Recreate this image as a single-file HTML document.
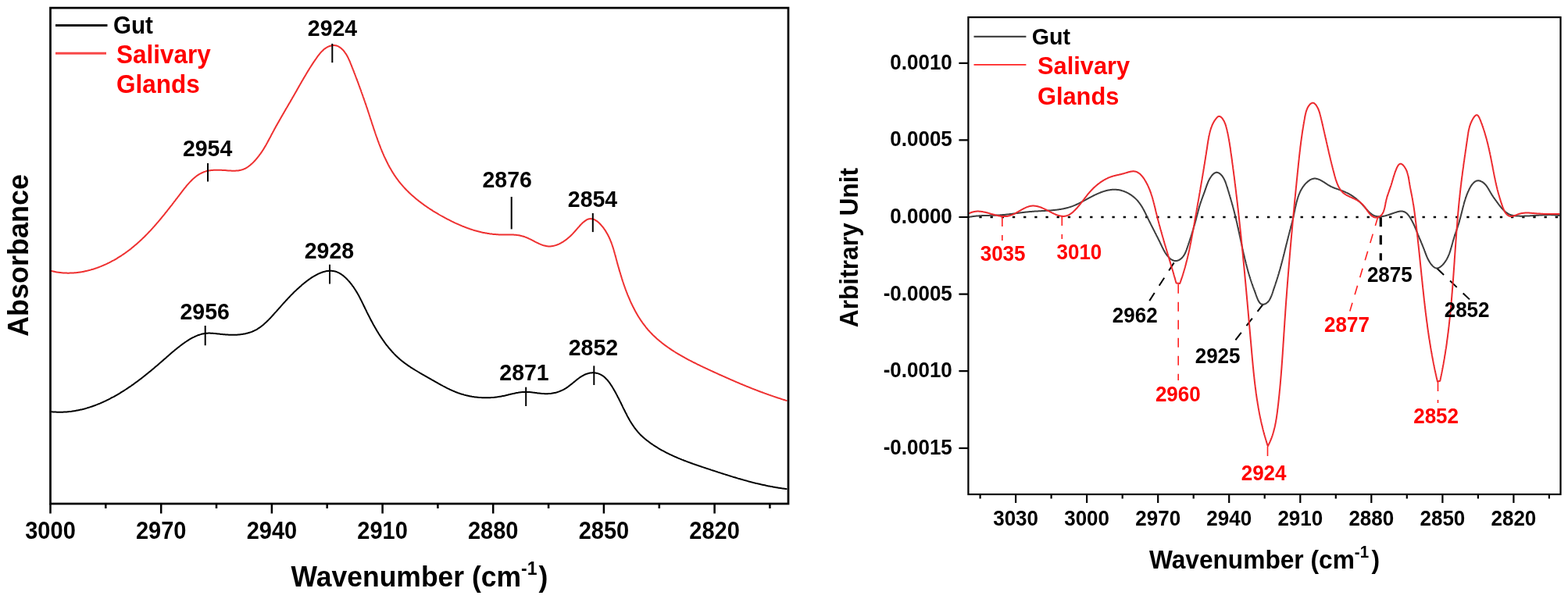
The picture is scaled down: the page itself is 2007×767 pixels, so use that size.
<!DOCTYPE html><html><head><meta charset="utf-8"><title>FTIR spectra</title>
<style>html,body{margin:0;padding:0;background:#fff;}svg{display:block;}text{font-family:"Liberation Sans",Arial,sans-serif;font-weight:bold;}</style></head><body>
<svg width="2007" height="767" viewBox="0 0 2007 767">
<rect x="0" y="0" width="2007" height="767" fill="#fff"/>
<path d="M65.5,346.9 L66.5,347.1 67.5,347.4 68.5,347.6 69.4,347.8 70.4,348.0 71.4,348.2 72.4,348.4 73.4,348.6 74.4,348.7 75.4,348.8 76.4,349.0 77.4,349.1 78.4,349.2 79.4,349.3 80.4,349.4 81.4,349.5 82.4,349.5 83.4,349.6 84.3,349.6 85.3,349.6 86.3,349.7 87.3,349.7 88.3,349.7 89.3,349.6 90.3,349.6 91.3,349.6 92.3,349.5 93.3,349.5 94.3,349.4 95.3,349.3 96.3,349.3 97.3,349.2 98.3,349.1 99.2,348.9 100.2,348.8 101.2,348.7 102.2,348.5 103.2,348.4 104.2,348.2 105.2,348.1 106.1,347.9 107.1,347.7 108.1,347.5 109.1,347.3 110.0,347.1 111.0,346.9 112.0,346.6 113.0,346.4 113.9,346.1 114.9,345.9 115.9,345.6 116.8,345.3 117.8,345.1 118.8,344.8 119.7,344.5 120.7,344.2 121.6,343.8 122.6,343.5 123.5,343.2 124.5,342.9 125.4,342.5 126.4,342.2 127.3,341.8 128.2,341.4 129.2,341.1 130.1,340.7 131.0,340.3 132.0,339.9 132.9,339.5 133.8,339.1 134.7,338.7 135.6,338.3 136.6,337.8 137.5,337.4 138.4,337.0 139.3,336.5 140.2,336.1 141.1,335.6 142.0,335.2 142.9,334.7 143.7,334.2 144.6,333.7 145.5,333.3 146.4,332.8 147.2,332.3 148.1,331.8 149.0,331.3 149.8,330.8 150.7,330.2 151.5,329.7 152.4,329.2 153.2,328.7 154.1,328.1 154.9,327.6 155.7,327.0 156.6,326.5 157.4,325.9 158.2,325.4 159.0,324.8 159.8,324.3 160.6,323.7 161.4,323.1 162.2,322.5 163.0,322.0 163.8,321.4 164.6,320.8 165.4,320.2 166.2,319.6 167.0,319.0 167.7,318.4 168.5,317.8 169.3,317.1 170.0,316.5 170.8,315.9 171.5,315.3 172.3,314.6 173.0,314.0 173.8,313.4 174.5,312.7 175.3,312.1 176.0,311.4 176.7,310.8 177.5,310.1 178.2,309.4 178.9,308.8 179.6,308.1 180.4,307.4 181.1,306.8 181.8,306.1 182.5,305.4 183.2,304.7 183.9,304.0 184.6,303.4 185.3,302.7 186.0,302.0 186.7,301.3 187.4,300.6 188.1,299.9 188.8,299.1 189.5,298.4 190.2,297.7 190.8,297.0 191.5,296.3 192.2,295.6 192.9,294.8 193.6,294.1 194.2,293.4 194.9,292.6 195.6,291.9 196.2,291.2 196.9,290.4 197.6,289.7 198.2,288.9 198.9,288.2 199.5,287.4 200.2,286.7 200.8,285.9 201.5,285.1 202.2,284.4 202.8,283.6 203.4,282.9 204.1,282.1 204.7,281.3 205.4,280.5 206.0,279.8 206.7,279.0 207.3,278.2 208.0,277.4 208.6,276.6 209.2,275.9 209.9,275.1 210.5,274.3 211.1,273.5 211.8,272.7 212.4,271.9 213.1,271.1 213.7,270.3 214.3,269.5 214.9,268.7 215.6,267.9 216.2,267.1 216.8,266.3 217.5,265.5 218.1,264.7 218.7,263.9 219.4,263.1 220.0,262.3 220.6,261.5 221.2,260.6 221.9,259.8 222.5,259.0 223.1,258.2 223.8,257.4 224.4,256.6 225.0,255.7 225.6,254.9 226.3,254.1 226.9,253.3 227.5,252.4 228.2,251.6 228.8,250.8 229.4,250.0 230.1,249.1 230.7,248.3 231.3,247.5 232.0,246.7 232.6,245.8 233.2,245.0 233.9,244.2 234.5,243.3 235.1,242.5 235.8,241.7 236.4,240.9 237.1,240.1 237.7,239.3 238.4,238.5 239.0,237.7 239.7,236.9 240.4,236.1 241.1,235.4 241.7,234.6 242.4,233.9 243.1,233.1 243.8,232.4 244.5,231.7 245.2,231.0 245.9,230.3 246.6,229.6 247.3,228.9 248.1,228.3 248.8,227.6 249.6,227.0 250.3,226.4 251.1,225.8 251.8,225.2 252.6,224.7 253.4,224.2 254.2,223.6 255.0,223.1 255.8,222.7 256.7,222.2 257.5,221.8 258.3,221.3 259.2,221.0 260.1,220.6 261.0,220.2 261.8,219.9 262.8,219.6 263.7,219.3 264.6,219.1 265.5,218.9 266.5,218.7 267.4,218.5 268.4,218.3 269.4,218.2 270.3,218.1 271.3,218.0 272.3,217.9 273.3,217.8 274.3,217.7 275.3,217.7 276.3,217.7 277.4,217.7 278.4,217.7 279.4,217.7 280.4,217.7 281.4,217.7 282.4,217.8 283.5,217.8 284.5,217.9 285.5,217.9 286.5,218.0 287.5,218.1 288.5,218.1 289.5,218.2 290.5,218.3 291.5,218.4 292.5,218.4 293.5,218.5 294.5,218.6 295.5,218.6 296.4,218.7 297.4,218.7 298.4,218.7 299.4,218.7 300.3,218.7 301.3,218.7 302.2,218.6 303.2,218.6 304.1,218.5 305.1,218.4 306.0,218.2 306.9,218.0 307.8,217.9 308.8,217.6 309.7,217.4 310.6,217.1 311.5,216.8 312.4,216.4 313.3,216.0 314.2,215.6 315.0,215.1 315.9,214.6 316.8,214.0 317.6,213.5 318.5,212.8 319.3,212.2 320.2,211.5 321.0,210.8 321.8,210.1 322.6,209.4 323.4,208.6 324.2,207.9 324.9,207.1 325.7,206.3 326.5,205.5 327.2,204.6 327.9,203.8 328.6,203.0 329.3,202.1 330.0,201.3 330.6,200.4 331.3,199.6 331.9,198.8 332.5,197.9 333.2,197.1 333.8,196.3 334.3,195.4 334.9,194.6 335.5,193.8 336.0,192.9 336.6,192.1 337.1,191.3 337.6,190.4 338.1,189.6 338.6,188.8 339.1,187.9 339.6,187.1 340.1,186.3 340.6,185.4 341.0,184.6 341.5,183.8 342.0,182.9 342.4,182.1 342.9,181.3 343.3,180.4 343.8,179.6 344.2,178.7 344.7,177.9 345.1,177.1 345.6,176.2 346.0,175.4 346.5,174.5 346.9,173.7 347.3,172.8 347.8,172.0 348.2,171.1 348.7,170.3 349.2,169.4 349.6,168.5 350.1,167.7 350.6,166.8 351.0,166.0 351.5,165.1 352.0,164.2 352.5,163.4 352.9,162.5 353.4,161.6 353.9,160.7 354.4,159.9 354.9,159.0 355.4,158.1 355.9,157.2 356.4,156.4 356.9,155.5 357.4,154.6 357.9,153.7 358.4,152.8 358.9,152.0 359.4,151.1 359.9,150.2 360.4,149.3 360.9,148.4 361.4,147.5 361.9,146.7 362.4,145.8 363.0,144.9 363.5,144.0 364.0,143.1 364.5,142.2 365.0,141.4 365.5,140.5 366.0,139.6 366.5,138.7 367.1,137.8 367.6,136.9 368.1,136.0 368.6,135.2 369.1,134.3 369.6,133.4 370.1,132.5 370.7,131.6 371.2,130.8 371.7,129.9 372.2,129.0 372.7,128.1 373.2,127.3 373.7,126.4 374.2,125.5 374.7,124.6 375.2,123.8 375.7,122.9 376.2,122.0 376.7,121.2 377.2,120.3 377.7,119.4 378.2,118.6 378.7,117.7 379.2,116.9 379.7,116.0 380.1,115.2 380.6,114.3 381.1,113.4 381.6,112.6 382.1,111.7 382.6,110.9 383.0,110.0 383.5,109.2 384.0,108.3 384.5,107.5 385.0,106.6 385.5,105.8 385.9,105.0 386.4,104.1 386.9,103.3 387.4,102.4 387.9,101.6 388.4,100.7 388.9,99.9 389.4,99.0 389.9,98.2 390.4,97.4 390.9,96.5 391.4,95.7 391.9,94.8 392.4,94.0 392.9,93.1 393.4,92.3 393.9,91.4 394.4,90.6 395.0,89.7 395.5,88.9 396.0,88.0 396.5,87.2 397.1,86.3 397.6,85.5 398.2,84.6 398.7,83.8 399.3,82.9 399.8,82.1 400.4,81.2 401.0,80.4 401.5,79.5 402.1,78.6 402.7,77.8 403.3,76.9 403.9,76.1 404.5,75.2 405.1,74.3 405.7,73.5 406.3,72.6 406.9,71.7 407.6,70.9 408.2,70.1 408.9,69.3 409.5,68.4 410.2,67.7 410.9,66.9 411.6,66.1 412.3,65.4 413.1,64.7 413.8,64.0 414.5,63.3 415.3,62.7 416.1,62.1 416.9,61.6 417.7,61.0 418.6,60.5 419.4,60.1 420.3,59.7 421.2,59.3 422.1,59.0 423.0,58.7 424.0,58.5 425.0,58.3 425.9,58.2 426.9,58.1 427.9,58.1 428.8,58.2 429.8,58.3 430.7,58.5 431.6,58.8 432.5,59.2 433.4,59.6 434.2,60.1 435.0,60.6 435.8,61.2 436.6,61.8 437.4,62.5 438.1,63.2 438.9,63.9 439.6,64.7 440.2,65.5 440.9,66.3 441.5,67.2 442.1,68.1 442.7,68.9 443.3,69.8 443.8,70.7 444.3,71.6 444.8,72.5 445.3,73.4 445.8,74.4 446.2,75.3 446.6,76.2 447.1,77.2 447.5,78.1 447.9,79.0 448.3,80.0 448.6,80.9 449.0,81.9 449.4,82.8 449.8,83.7 450.1,84.7 450.5,85.6 450.9,86.6 451.3,87.5 451.6,88.4 452.0,89.4 452.4,90.3 452.7,91.2 453.1,92.2 453.4,93.1 453.8,94.0 454.2,95.0 454.5,95.9 454.9,96.8 455.2,97.8 455.6,98.7 455.9,99.6 456.3,100.5 456.6,101.5 457.0,102.4 457.3,103.3 457.7,104.2 458.0,105.2 458.4,106.1 458.7,107.0 459.0,107.9 459.4,108.9 459.7,109.8 460.1,110.7 460.4,111.6 460.7,112.6 461.1,113.5 461.4,114.4 461.8,115.3 462.1,116.2 462.4,117.2 462.7,118.1 463.1,119.0 463.4,120.0 463.7,120.9 464.1,121.8 464.4,122.7 464.7,123.7 465.0,124.6 465.4,125.5 465.7,126.4 466.0,127.4 466.3,128.3 466.7,129.2 467.0,130.2 467.3,131.1 467.6,132.0 467.9,133.0 468.3,133.9 468.6,134.8 468.9,135.8 469.2,136.7 469.5,137.7 469.9,138.6 470.2,139.5 470.5,140.5 470.8,141.4 471.1,142.4 471.4,143.3 471.7,144.3 472.1,145.2 472.4,146.2 472.7,147.1 473.0,148.1 473.3,149.0 473.6,150.0 473.9,151.0 474.2,151.9 474.5,152.9 474.9,153.8 475.2,154.8 475.5,155.8 475.8,156.7 476.1,157.7 476.4,158.6 476.7,159.6 477.1,160.6 477.4,161.5 477.7,162.5 478.0,163.5 478.3,164.4 478.6,165.4 479.0,166.4 479.3,167.3 479.6,168.3 479.9,169.3 480.3,170.2 480.6,171.2 480.9,172.1 481.3,173.1 481.6,174.1 481.9,175.0 482.3,176.0 482.6,177.0 483.0,177.9 483.3,178.9 483.6,179.8 484.0,180.8 484.3,181.7 484.7,182.7 485.0,183.6 485.4,184.6 485.8,185.5 486.1,186.5 486.5,187.4 486.9,188.4 487.2,189.3 487.6,190.3 488.0,191.2 488.4,192.1 488.7,193.1 489.1,194.0 489.5,194.9 489.9,195.9 490.3,196.8 490.7,197.7 491.1,198.6 491.5,199.6 491.9,200.5 492.4,201.4 492.8,202.3 493.2,203.2 493.6,204.1 494.1,205.0 494.5,205.9 494.9,206.8 495.4,207.7 495.8,208.6 496.3,209.5 496.7,210.4 497.2,211.3 497.7,212.1 498.1,213.0 498.6,213.9 499.1,214.8 499.6,215.6 500.1,216.5 500.6,217.3 501.1,218.2 501.6,219.1 502.1,219.9 502.6,220.7 503.1,221.6 503.7,222.4 504.2,223.2 504.7,224.1 505.3,224.9 505.8,225.7 506.4,226.5 507.0,227.3 507.5,228.1 508.1,228.9 508.7,229.7 509.3,230.5 509.9,231.3 510.5,232.1 511.1,232.8 511.7,233.6 512.3,234.4 512.9,235.1 513.6,235.9 514.2,236.6 514.9,237.4 515.5,238.1 516.2,238.9 516.8,239.6 517.5,240.3 518.1,241.0 518.8,241.8 519.5,242.5 520.2,243.2 520.9,243.9 521.6,244.6 522.3,245.3 523.0,246.0 523.7,246.7 524.4,247.3 525.1,248.0 525.9,248.7 526.6,249.4 527.3,250.0 528.1,250.7 528.8,251.3 529.6,252.0 530.3,252.6 531.1,253.3 531.8,253.9 532.6,254.6 533.4,255.2 534.1,255.8 534.9,256.4 535.7,257.1 536.5,257.7 537.3,258.3 538.1,258.9 538.9,259.5 539.7,260.1 540.5,260.7 541.3,261.3 542.1,261.9 542.9,262.5 543.7,263.1 544.6,263.6 545.4,264.2 546.2,264.8 547.0,265.4 547.9,265.9 548.7,266.5 549.5,267.0 550.4,267.6 551.2,268.1 552.1,268.7 552.9,269.2 553.8,269.8 554.6,270.3 555.5,270.8 556.4,271.4 557.2,271.9 558.1,272.4 559.0,272.9 559.8,273.4 560.7,273.9 561.6,274.5 562.4,275.0 563.3,275.5 564.2,276.0 565.1,276.5 566.0,277.0 566.9,277.4 567.7,277.9 568.6,278.4 569.5,278.9 570.4,279.4 571.3,279.8 572.2,280.3 573.1,280.8 574.0,281.2 574.9,281.7 575.8,282.2 576.7,282.6 577.6,283.1 578.5,283.5 579.4,284.0 580.3,284.4 581.2,284.8 582.1,285.3 583.0,285.7 583.9,286.1 584.9,286.5 585.8,286.9 586.7,287.3 587.6,287.7 588.5,288.1 589.4,288.5 590.4,288.9 591.3,289.3 592.2,289.7 593.1,290.0 594.1,290.4 595.0,290.8 595.9,291.1 596.9,291.5 597.8,291.8 598.7,292.2 599.7,292.5 600.6,292.8 601.5,293.2 602.5,293.5 603.4,293.8 604.4,294.1 605.3,294.4 606.3,294.7 607.2,295.0 608.2,295.3 609.1,295.5 610.1,295.8 611.0,296.1 612.0,296.3 612.9,296.6 613.9,296.8 614.9,297.0 615.8,297.3 616.8,297.5 617.7,297.7 618.7,297.9 619.7,298.1 620.6,298.3 621.6,298.5 622.6,298.6 623.5,298.8 624.5,299.0 625.5,299.1 626.5,299.3 627.5,299.4 628.4,299.5 629.4,299.6 630.4,299.8 631.4,299.9 632.4,300.0 633.3,300.0 634.3,300.1 635.3,300.2 636.3,300.3 637.3,300.3 638.3,300.4 639.3,300.4 640.3,300.4 641.3,300.4 642.3,300.4 643.3,300.4 644.3,300.5 645.3,300.5 646.3,300.4 647.3,300.4 648.3,300.4 649.3,300.4 650.3,300.4 651.3,300.4 652.3,300.5 653.3,300.5 654.3,300.5 655.3,300.5 656.3,300.6 657.3,300.6 658.2,300.7 659.2,300.8 660.2,300.8 661.2,300.9 662.2,301.1 663.2,301.2 664.2,301.3 665.1,301.5 666.1,301.7 667.1,301.9 668.1,302.2 669.0,302.4 670.0,302.7 670.9,303.0 671.9,303.4 672.9,303.7 673.8,304.1 674.8,304.5 675.7,304.9 676.6,305.3 677.6,305.8 678.5,306.2 679.4,306.7 680.4,307.2 681.3,307.7 682.2,308.1 683.2,308.6 684.1,309.1 685.0,309.6 686.0,310.1 686.9,310.5 687.8,311.0 688.7,311.4 689.6,311.9 690.6,312.3 691.5,312.7 692.4,313.1 693.3,313.4 694.3,313.8 695.2,314.1 696.1,314.4 697.1,314.6 698.0,314.8 698.9,315.0 699.9,315.2 700.8,315.3 701.7,315.4 702.7,315.4 703.6,315.4 704.6,315.4 705.5,315.3 706.4,315.2 707.4,315.0 708.3,314.9 709.3,314.6 710.2,314.4 711.2,314.1 712.1,313.8 713.0,313.5 713.9,313.1 714.9,312.7 715.8,312.3 716.7,311.8 717.6,311.3 718.5,310.9 719.4,310.3 720.3,309.8 721.2,309.3 722.0,308.7 722.9,308.1 723.7,307.5 724.6,306.9 725.4,306.2 726.2,305.6 727.0,304.9 727.8,304.3 728.6,303.6 729.4,302.9 730.1,302.2 730.9,301.5 731.6,300.8 732.3,300.1 733.0,299.4 733.7,298.6 734.3,297.9 735.0,297.2 735.6,296.5 736.3,295.8 736.9,295.0 737.5,294.3 738.1,293.6 738.8,292.8 739.4,292.1 740.1,291.3 740.8,290.6 741.5,289.8 742.2,289.0 742.9,288.2 743.7,287.4 744.5,286.6 745.3,285.8 746.1,285.0 747.0,284.3 747.9,283.6 748.8,282.9 749.7,282.3 750.6,281.7 751.5,281.2 752.4,280.8 753.3,280.5 754.2,280.3 755.1,280.2 756.0,280.1 756.8,280.2 757.7,280.3 758.6,280.5 759.4,280.7 760.3,281.0 761.1,281.4 761.9,281.8 762.7,282.3 763.5,282.8 764.3,283.4 765.1,284.0 765.9,284.6 766.6,285.3 767.4,286.0 768.1,286.8 768.8,287.5 769.5,288.3 770.2,289.1 770.8,289.8 771.5,290.6 772.1,291.4 772.7,292.2 773.3,293.1 773.9,293.9 774.4,294.7 775.0,295.5 775.5,296.4 776.0,297.2 776.5,298.1 777.0,298.9 777.5,299.8 778.0,300.6 778.4,301.5 778.9,302.4 779.3,303.3 779.7,304.1 780.1,305.0 780.5,305.9 780.9,306.8 781.3,307.7 781.6,308.6 782.0,309.5 782.4,310.4 782.7,311.4 783.0,312.3 783.4,313.2 783.7,314.1 784.0,315.1 784.3,316.0 784.6,316.9 784.9,317.9 785.2,318.8 785.5,319.8 785.8,320.7 786.0,321.7 786.3,322.6 786.6,323.6 786.8,324.5 787.1,325.5 787.4,326.4 787.6,327.4 787.9,328.4 788.2,329.3 788.4,330.3 788.7,331.3 788.9,332.2 789.2,333.2 789.5,334.2 789.7,335.2 790.0,336.1 790.2,337.1 790.5,338.1 790.8,339.1 791.1,340.0 791.3,341.0 791.6,342.0 791.9,343.0 792.2,344.0 792.4,344.9 792.7,345.9 793.0,346.9 793.3,347.9 793.6,348.8 793.9,349.8 794.2,350.8 794.5,351.8 794.8,352.7 795.1,353.7 795.4,354.7 795.7,355.7 796.0,356.7 796.3,357.6 796.6,358.6 796.9,359.6 797.2,360.5 797.6,361.5 797.9,362.5 798.2,363.4 798.5,364.4 798.9,365.4 799.2,366.3 799.6,367.3 799.9,368.3 800.2,369.2 800.6,370.2 800.9,371.1 801.3,372.1 801.7,373.1 802.0,374.0 802.4,375.0 802.8,375.9 803.1,376.8 803.5,377.8 803.9,378.7 804.3,379.7 804.7,380.6 805.1,381.5 805.5,382.5 805.9,383.4 806.3,384.3 806.7,385.3 807.1,386.2 807.5,387.1 807.9,388.0 808.4,388.9 808.8,389.8 809.2,390.7 809.7,391.6 810.1,392.5 810.6,393.4 811.0,394.3 811.5,395.2 811.9,396.1 812.4,397.0 812.9,397.9 813.3,398.7 813.8,399.6 814.3,400.5 814.8,401.4 815.3,402.2 815.8,403.1 816.3,403.9 816.8,404.8 817.3,405.6 817.9,406.5 818.4,407.3 818.9,408.1 819.5,408.9 820.0,409.8 820.6,410.6 821.1,411.4 821.7,412.2 822.2,413.0 822.8,413.8 823.4,414.6 824.0,415.4 824.6,416.2 825.2,417.0 825.8,417.7 826.4,418.5 827.0,419.3 827.6,420.0 828.2,420.8 828.9,421.5 829.5,422.3 830.1,423.0 830.8,423.7 831.4,424.4 832.1,425.2 832.8,425.9 833.5,426.6 834.1,427.3 834.8,428.0 835.5,428.7 836.2,429.4 836.9,430.0 837.6,430.7 838.3,431.4 839.1,432.0 839.8,432.7 840.5,433.4 841.2,434.0 842.0,434.7 842.7,435.3 843.5,435.9 844.2,436.6 845.0,437.2 845.8,437.8 846.5,438.4 847.3,439.1 848.1,439.7 848.9,440.3 849.6,440.9 850.4,441.5 851.2,442.1 852.0,442.7 852.8,443.2 853.6,443.8 854.4,444.4 855.3,445.0 856.1,445.5 856.9,446.1 857.7,446.7 858.5,447.2 859.4,447.8 860.2,448.3 861.1,448.9 861.9,449.4 862.7,450.0 863.6,450.5 864.4,451.0 865.3,451.6 866.2,452.1 867.0,452.6 867.9,453.1 868.7,453.6 869.6,454.2 870.5,454.7 871.4,455.2 872.2,455.7 873.1,456.2 874.0,456.7 874.9,457.2 875.8,457.7 876.7,458.2 877.5,458.6 878.4,459.1 879.3,459.6 880.2,460.1 881.1,460.6 882.0,461.0 882.9,461.5 883.8,462.0 884.7,462.4 885.6,462.9 886.5,463.4 887.4,463.8 888.3,464.3 889.3,464.7 890.2,465.2 891.1,465.7 892.0,466.1 892.9,466.6 893.8,467.0 894.7,467.4 895.6,467.9 896.6,468.3 897.5,468.8 898.4,469.2 899.3,469.6 900.2,470.1 901.1,470.5 902.1,470.9 903.0,471.4 903.9,471.8 904.8,472.2 905.7,472.7 906.6,473.1 907.6,473.5 908.5,473.9 909.4,474.4 910.3,474.8 911.2,475.2 912.1,475.6 913.0,476.0 914.0,476.5 914.9,476.9 915.8,477.3 916.7,477.7 917.6,478.1 918.5,478.5 919.4,479.0 920.3,479.4 921.2,479.8 922.2,480.2 923.1,480.6 924.0,481.0 924.9,481.4 925.8,481.8 926.7,482.2 927.6,482.6 928.5,483.0 929.4,483.4 930.3,483.8 931.2,484.2 932.1,484.6 933.0,485.0 933.9,485.4 934.8,485.8 935.7,486.2 936.7,486.6 937.6,487.0 938.5,487.4 939.4,487.8 940.3,488.2 941.2,488.6 942.1,489.0 943.0,489.4 943.9,489.7 944.8,490.1 945.7,490.5 946.6,490.9 947.5,491.3 948.4,491.7 949.4,492.0 950.3,492.4 951.2,492.8 952.1,493.2 953.0,493.5 953.9,493.9 954.8,494.3 955.7,494.7 956.6,495.0 957.6,495.4 958.5,495.8 959.4,496.1 960.3,496.5 961.2,496.9 962.1,497.2 963.0,497.6 964.0,498.0 964.9,498.3 965.8,498.7 966.7,499.0 967.6,499.4 968.6,499.7 969.5,500.1 970.4,500.5 971.3,500.8 972.3,501.2 973.2,501.5 974.1,501.9 975.1,502.2 976.0,502.5 976.9,502.9 977.9,503.2 978.8,503.6 979.7,503.9 980.7,504.3 981.6,504.6 982.5,504.9 983.5,505.3 984.4,505.6 985.4,505.9 986.3,506.3 987.3,506.6 988.2,506.9 989.2,507.2 990.1,507.6 991.1,507.9 992.0,508.2 993.0,508.5 993.9,508.9 994.9,509.2 995.8,509.5 996.8,509.8 997.8,510.1 998.7,510.4 999.7,510.8 1000.7,511.1 1001.6,511.4 1002.6,511.7 1003.6,512.0 1004.6,512.3 1005.5,512.6 1006.5,512.9 1007.5,513.2" fill="none" stroke="#ee3030" stroke-width="2.0" stroke-linejoin="round"/>
<path d="M65.5,527.2 L66.5,527.3 67.5,527.4 68.5,527.5 69.6,527.5 70.6,527.6 71.6,527.6 72.6,527.7 73.6,527.7 74.6,527.7 75.6,527.8 76.6,527.8 77.6,527.8 78.6,527.7 79.6,527.7 80.6,527.7 81.6,527.6 82.6,527.6 83.6,527.5 84.6,527.5 85.6,527.4 86.6,527.3 87.6,527.2 88.6,527.1 89.6,527.0 90.6,526.9 91.6,526.8 92.6,526.6 93.5,526.5 94.5,526.3 95.5,526.2 96.5,526.0 97.5,525.8 98.4,525.6 99.4,525.5 100.4,525.3 101.4,525.1 102.3,524.8 103.3,524.6 104.3,524.4 105.2,524.2 106.2,523.9 107.1,523.7 108.1,523.4 109.1,523.2 110.0,522.9 111.0,522.6 111.9,522.3 112.9,522.0 113.8,521.7 114.8,521.4 115.7,521.1 116.7,520.8 117.6,520.5 118.5,520.2 119.5,519.8 120.4,519.5 121.4,519.2 122.3,518.8 123.2,518.4 124.2,518.1 125.1,517.7 126.0,517.3 126.9,517.0 127.9,516.6 128.8,516.2 129.7,515.8 130.6,515.4 131.5,515.0 132.4,514.6 133.3,514.1 134.3,513.7 135.2,513.3 136.1,512.9 137.0,512.4 137.9,512.0 138.8,511.5 139.7,511.1 140.6,510.6 141.4,510.2 142.3,509.7 143.2,509.2 144.1,508.7 145.0,508.3 145.9,507.8 146.7,507.3 147.6,506.8 148.5,506.3 149.4,505.8 150.2,505.3 151.1,504.8 152.0,504.3 152.8,503.8 153.7,503.3 154.6,502.7 155.4,502.2 156.3,501.7 157.1,501.2 158.0,500.6 158.8,500.1 159.7,499.5 160.5,499.0 161.3,498.5 162.2,497.9 163.0,497.4 163.8,496.8 164.7,496.2 165.5,495.7 166.3,495.1 167.1,494.6 168.0,494.0 168.8,493.4 169.6,492.8 170.4,492.3 171.2,491.7 172.0,491.1 172.8,490.5 173.6,489.9 174.4,489.3 175.2,488.8 176.0,488.2 176.8,487.6 177.6,487.0 178.4,486.4 179.2,485.8 180.0,485.2 180.8,484.6 181.6,484.0 182.4,483.3 183.2,482.7 184.0,482.1 184.7,481.5 185.5,480.9 186.3,480.3 187.1,479.6 187.8,479.0 188.6,478.4 189.4,477.8 190.2,477.1 190.9,476.5 191.7,475.9 192.5,475.3 193.2,474.6 194.0,474.0 194.8,473.3 195.5,472.7 196.3,472.1 197.1,471.4 197.8,470.8 198.6,470.1 199.3,469.5 200.1,468.8 200.9,468.2 201.6,467.6 202.4,466.9 203.1,466.3 203.9,465.6 204.6,464.9 205.4,464.3 206.1,463.6 206.9,463.0 207.6,462.3 208.4,461.7 209.1,461.0 209.9,460.3 210.6,459.7 211.4,459.0 212.1,458.4 212.9,457.7 213.6,457.0 214.4,456.4 215.2,455.7 215.9,455.1 216.7,454.4 217.4,453.7 218.2,453.1 218.9,452.4 219.7,451.8 220.5,451.1 221.2,450.5 222.0,449.8 222.8,449.2 223.5,448.5 224.3,447.9 225.1,447.3 225.9,446.6 226.7,446.0 227.5,445.3 228.3,444.7 229.1,444.1 229.9,443.5 230.7,442.8 231.5,442.2 232.3,441.6 233.1,441.0 233.9,440.4 234.8,439.8 235.6,439.2 236.4,438.6 237.3,438.0 238.1,437.5 239.0,436.9 239.8,436.3 240.7,435.8 241.6,435.2 242.5,434.7 243.3,434.2 244.2,433.7 245.1,433.2 246.0,432.7 246.9,432.2 247.8,431.8 248.7,431.3 249.6,430.9 250.5,430.5 251.5,430.1 252.4,429.7 253.3,429.3 254.2,429.0 255.2,428.7 256.1,428.4 257.1,428.1 258.0,427.8 259.0,427.6 259.9,427.4 260.9,427.2 261.8,427.1 262.8,426.9 263.8,426.8 264.7,426.7 265.7,426.7 266.7,426.6 267.6,426.6 268.6,426.6 269.6,426.7 270.6,426.7 271.6,426.8 272.6,426.8 273.6,426.9 274.6,427.0 275.5,427.1 276.5,427.2 277.5,427.3 278.5,427.4 279.5,427.5 280.5,427.6 281.5,427.7 282.5,427.9 283.5,428.0 284.5,428.1 285.6,428.2 286.6,428.2 287.6,428.3 288.6,428.4 289.6,428.5 290.6,428.5 291.6,428.6 292.6,428.7 293.6,428.7 294.6,428.7 295.6,428.8 296.6,428.8 297.6,428.8 298.6,428.8 299.6,428.8 300.5,428.8 301.5,428.7 302.5,428.7 303.5,428.7 304.5,428.6 305.5,428.5 306.4,428.4 307.4,428.3 308.4,428.2 309.4,428.1 310.3,428.0 311.3,427.8 312.2,427.6 313.2,427.5 314.1,427.3 315.1,427.0 316.0,426.8 317.0,426.6 317.9,426.3 318.8,426.0 319.7,425.7 320.6,425.4 321.6,425.1 322.5,424.8 323.4,424.4 324.2,424.0 325.1,423.6 326.0,423.2 326.9,422.7 327.8,422.3 328.6,421.8 329.5,421.3 330.3,420.7 331.2,420.2 332.0,419.6 332.8,419.1 333.7,418.5 334.5,417.8 335.3,417.2 336.1,416.6 336.9,415.9 337.7,415.2 338.5,414.5 339.3,413.8 340.0,413.1 340.8,412.4 341.6,411.7 342.3,410.9 343.1,410.2 343.8,409.4 344.6,408.7 345.3,407.9 346.1,407.2 346.8,406.4 347.5,405.6 348.2,404.8 348.9,404.0 349.6,403.3 350.3,402.5 351.0,401.7 351.7,400.9 352.4,400.1 353.1,399.4 353.8,398.6 354.5,397.8 355.1,397.1 355.8,396.3 356.5,395.6 357.1,394.8 357.8,394.1 358.5,393.3 359.1,392.6 359.8,391.8 360.4,391.1 361.1,390.4 361.7,389.7 362.4,388.9 363.0,388.2 363.7,387.5 364.3,386.8 365.0,386.1 365.6,385.4 366.2,384.7 366.9,384.0 367.5,383.3 368.2,382.6 368.8,381.9 369.5,381.2 370.2,380.5 370.8,379.8 371.5,379.1 372.2,378.4 372.8,377.7 373.5,377.0 374.2,376.4 374.9,375.7 375.5,375.0 376.2,374.3 376.9,373.6 377.6,373.0 378.4,372.3 379.1,371.6 379.8,370.9 380.5,370.2 381.3,369.6 382.0,368.9 382.8,368.2 383.5,367.5 384.3,366.9 385.1,366.2 385.8,365.5 386.6,364.8 387.4,364.1 388.2,363.5 389.1,362.8 389.9,362.1 390.7,361.5 391.5,360.8 392.4,360.2 393.2,359.5 394.1,358.9 394.9,358.2 395.8,357.6 396.7,357.0 397.5,356.4 398.4,355.8 399.3,355.2 400.2,354.7 401.1,354.1 402.0,353.6 402.9,353.1 403.8,352.6 404.7,352.1 405.6,351.6 406.5,351.1 407.4,350.7 408.3,350.3 409.2,349.9 410.1,349.5 411.0,349.2 411.9,348.8 412.8,348.5 413.7,348.2 414.7,347.9 415.6,347.7 416.5,347.5 417.4,347.3 418.3,347.1 419.2,347.0 420.1,346.9 421.0,346.8 421.9,346.8 422.8,346.8 423.7,346.8 424.6,346.8 425.5,346.9 426.4,347.0 427.3,347.2 428.1,347.3 429.0,347.6 429.9,347.8 430.8,348.1 431.6,348.4 432.5,348.8 433.3,349.2 434.2,349.6 435.0,350.1 435.8,350.6 436.7,351.1 437.5,351.7 438.3,352.3 439.1,352.9 439.9,353.5 440.7,354.2 441.5,354.9 442.2,355.6 443.0,356.3 443.7,357.1 444.5,357.8 445.2,358.6 445.9,359.4 446.7,360.2 447.4,361.0 448.1,361.8 448.7,362.7 449.4,363.5 450.1,364.4 450.7,365.2 451.3,366.1 452.0,366.9 452.6,367.8 453.2,368.7 453.7,369.5 454.3,370.4 454.9,371.3 455.4,372.1 456.0,373.0 456.5,373.9 457.0,374.7 457.5,375.6 458.0,376.5 458.5,377.3 459.0,378.2 459.5,379.1 459.9,380.0 460.4,380.8 460.8,381.7 461.3,382.6 461.7,383.5 462.2,384.3 462.6,385.2 463.1,386.1 463.5,387.0 463.9,387.8 464.3,388.7 464.8,389.6 465.2,390.5 465.6,391.4 466.0,392.3 466.5,393.1 466.9,394.0 467.3,394.9 467.8,395.8 468.2,396.7 468.6,397.6 469.1,398.5 469.5,399.4 469.9,400.2 470.4,401.1 470.8,402.0 471.3,402.9 471.7,403.8 472.2,404.7 472.6,405.6 473.1,406.5 473.6,407.4 474.0,408.3 474.5,409.2 474.9,410.1 475.4,410.9 475.9,411.8 476.4,412.7 476.8,413.6 477.3,414.5 477.8,415.4 478.3,416.3 478.8,417.1 479.3,418.0 479.8,418.9 480.3,419.8 480.8,420.6 481.3,421.5 481.8,422.4 482.3,423.2 482.8,424.1 483.4,425.0 483.9,425.8 484.4,426.7 484.9,427.5 485.5,428.4 486.0,429.2 486.6,430.1 487.1,430.9 487.7,431.8 488.2,432.6 488.8,433.4 489.4,434.3 489.9,435.1 490.5,435.9 491.1,436.7 491.7,437.6 492.2,438.4 492.8,439.2 493.4,440.0 494.0,440.8 494.6,441.6 495.2,442.4 495.9,443.1 496.5,443.9 497.1,444.7 497.7,445.5 498.4,446.2 499.0,447.0 499.7,447.7 500.3,448.5 501.0,449.2 501.6,450.0 502.3,450.7 503.0,451.4 503.6,452.1 504.3,452.9 505.0,453.6 505.7,454.3 506.4,455.0 507.1,455.7 507.8,456.3 508.5,457.0 509.2,457.7 510.0,458.3 510.7,459.0 511.4,459.7 512.2,460.3 512.9,460.9 513.7,461.6 514.5,462.2 515.2,462.8 516.0,463.4 516.8,464.0 517.6,464.6 518.4,465.2 519.2,465.8 520.0,466.3 520.8,466.9 521.6,467.5 522.4,468.1 523.2,468.6 524.0,469.2 524.9,469.7 525.7,470.3 526.5,470.8 527.4,471.3 528.2,471.9 529.0,472.4 529.9,472.9 530.7,473.5 531.6,474.0 532.5,474.5 533.3,475.0 534.2,475.5 535.0,476.0 535.9,476.5 536.8,477.1 537.6,477.6 538.5,478.1 539.4,478.6 540.2,479.1 541.1,479.6 542.0,480.1 542.9,480.6 543.8,481.1 544.6,481.6 545.5,482.1 546.4,482.6 547.3,483.1 548.1,483.6 549.0,484.1 549.9,484.6 550.8,485.1 551.7,485.6 552.5,486.1 553.4,486.6 554.3,487.1 555.2,487.6 556.1,488.1 556.9,488.6 557.8,489.1 558.7,489.6 559.6,490.1 560.5,490.6 561.3,491.1 562.2,491.6 563.1,492.1 564.0,492.6 564.9,493.1 565.8,493.5 566.6,494.0 567.5,494.5 568.4,495.0 569.3,495.4 570.2,495.9 571.1,496.4 572.0,496.8 572.9,497.3 573.8,497.7 574.7,498.1 575.6,498.6 576.5,499.0 577.4,499.4 578.3,499.8 579.2,500.2 580.2,500.6 581.1,501.0 582.0,501.4 582.9,501.8 583.9,502.2 584.8,502.5 585.7,502.9 586.6,503.2 587.6,503.5 588.5,503.9 589.5,504.2 590.4,504.5 591.4,504.8 592.3,505.1 593.3,505.3 594.2,505.6 595.2,505.9 596.2,506.1 597.1,506.4 598.1,506.6 599.1,506.8 600.0,507.0 601.0,507.2 602.0,507.4 603.0,507.6 604.0,507.8 604.9,507.9 605.9,508.1 606.9,508.2 607.9,508.4 608.9,508.5 609.9,508.6 610.9,508.7 611.9,508.8 612.9,508.9 613.8,509.0 614.8,509.1 615.8,509.1 616.8,509.2 617.8,509.2 618.8,509.3 619.8,509.3 620.8,509.3 621.8,509.3 622.8,509.3 623.8,509.3 624.8,509.3 625.8,509.2 626.8,509.2 627.8,509.2 628.8,509.1 629.8,509.0 630.8,509.0 631.8,508.9 632.8,508.8 633.8,508.7 634.8,508.5 635.8,508.4 636.8,508.3 637.8,508.1 638.8,508.0 639.7,507.8 640.7,507.7 641.7,507.5 642.7,507.3 643.7,507.1 644.7,506.9 645.7,506.7 646.6,506.5 647.6,506.2 648.6,506.0 649.6,505.8 650.5,505.5 651.5,505.3 652.5,505.1 653.5,504.8 654.4,504.6 655.4,504.4 656.4,504.1 657.4,503.9 658.4,503.7 659.3,503.5 660.3,503.3 661.3,503.1 662.3,502.9 663.2,502.8 664.2,502.6 665.2,502.5 666.2,502.3 667.2,502.2 668.2,502.1 669.2,502.0 670.2,502.0 671.2,501.9 672.1,501.9 673.1,501.9 674.2,501.9 675.2,501.9 676.2,502.0 677.2,502.0 678.2,502.1 679.2,502.2 680.2,502.3 681.2,502.4 682.2,502.6 683.2,502.7 684.2,502.8 685.3,503.0 686.3,503.1 687.3,503.2 688.3,503.4 689.3,503.5 690.3,503.6 691.3,503.7 692.3,503.8 693.3,503.9 694.3,504.0 695.2,504.1 696.2,504.1 697.2,504.2 698.2,504.2 699.1,504.2 700.1,504.2 701.1,504.2 702.0,504.1 703.0,504.1 703.9,504.0 704.9,503.9 705.8,503.8 706.8,503.6 707.7,503.5 708.6,503.3 709.5,503.1 710.5,502.9 711.4,502.7 712.3,502.4 713.2,502.2 714.1,501.9 715.0,501.6 715.9,501.2 716.8,500.9 717.7,500.5 718.6,500.1 719.5,499.7 720.4,499.3 721.3,498.8 722.2,498.3 723.0,497.8 723.9,497.3 724.8,496.8 725.7,496.2 726.5,495.6 727.4,495.0 728.2,494.3 729.1,493.7 729.9,493.0 730.8,492.3 731.7,491.7 732.5,491.0 733.4,490.3 734.2,489.6 735.1,488.9 735.9,488.2 736.8,487.5 737.6,486.8 738.5,486.1 739.3,485.4 740.2,484.8 741.0,484.2 741.9,483.5 742.8,482.9 743.6,482.4 744.5,481.8 745.4,481.3 746.3,480.8 747.2,480.3 748.0,479.9 748.9,479.5 749.8,479.1 750.7,478.8 751.7,478.5 752.6,478.2 753.5,478.0 754.4,477.8 755.3,477.6 756.2,477.5 757.1,477.4 758.0,477.3 758.9,477.3 759.8,477.3 760.7,477.4 761.6,477.4 762.5,477.6 763.3,477.7 764.2,477.9 765.1,478.1 765.9,478.4 766.8,478.7 767.6,479.1 768.4,479.4 769.3,479.9 770.1,480.3 770.9,480.8 771.6,481.3 772.4,481.9 773.2,482.5 773.9,483.1 774.6,483.8 775.3,484.5 776.0,485.2 776.7,485.9 777.4,486.7 778.1,487.5 778.8,488.3 779.4,489.2 780.1,490.0 780.7,490.9 781.3,491.8 781.9,492.7 782.5,493.6 783.1,494.5 783.7,495.4 784.3,496.4 784.8,497.3 785.4,498.3 785.9,499.2 786.5,500.2 787.0,501.1 787.5,502.1 788.1,503.0 788.6,504.0 789.1,504.9 789.6,505.9 790.1,506.8 790.5,507.7 791.0,508.7 791.5,509.6 792.0,510.5 792.4,511.5 792.9,512.4 793.4,513.3 793.8,514.2 794.3,515.1 794.7,516.1 795.2,517.0 795.6,517.9 796.1,518.8 796.5,519.7 796.9,520.6 797.4,521.6 797.8,522.5 798.3,523.4 798.7,524.3 799.2,525.2 799.6,526.1 800.1,527.0 800.5,527.9 801.0,528.8 801.4,529.6 801.9,530.5 802.3,531.4 802.8,532.3 803.2,533.2 803.7,534.0 804.2,534.9 804.7,535.8 805.1,536.6 805.6,537.5 806.1,538.3 806.6,539.2 807.1,540.0 807.6,540.8 808.1,541.7 808.7,542.5 809.2,543.3 809.7,544.1 810.3,544.9 810.8,545.7 811.4,546.5 811.9,547.3 812.5,548.1 813.1,548.9 813.7,549.7 814.3,550.4 814.9,551.2 815.5,551.9 816.1,552.7 816.8,553.4 817.4,554.1 818.1,554.9 818.7,555.6 819.4,556.3 820.1,557.0 820.8,557.7 821.5,558.3 822.3,559.0 823.0,559.7 823.7,560.4 824.5,561.0 825.3,561.7 826.0,562.3 826.8,562.9 827.6,563.6 828.4,564.2 829.2,564.8 830.0,565.4 830.8,566.0 831.6,566.6 832.4,567.2 833.2,567.8 834.0,568.3 834.9,568.9 835.7,569.5 836.5,570.0 837.4,570.6 838.2,571.1 839.0,571.7 839.9,572.2 840.7,572.7 841.6,573.2 842.4,573.8 843.3,574.3 844.2,574.8 845.0,575.3 845.9,575.8 846.8,576.3 847.6,576.8 848.5,577.2 849.4,577.7 850.3,578.2 851.1,578.6 852.0,579.1 852.9,579.6 853.8,580.0 854.7,580.5 855.6,580.9 856.5,581.3 857.4,581.8 858.3,582.2 859.2,582.6 860.1,583.0 861.0,583.5 861.9,583.9 862.8,584.3 863.7,584.7 864.7,585.1 865.6,585.5 866.5,585.9 867.4,586.3 868.3,586.7 869.3,587.1 870.2,587.4 871.1,587.8 872.0,588.2 873.0,588.6 873.9,588.9 874.8,589.3 875.8,589.7 876.7,590.0 877.6,590.4 878.6,590.7 879.5,591.1 880.5,591.5 881.4,591.8 882.3,592.1 883.3,592.5 884.2,592.8 885.2,593.2 886.1,593.5 887.1,593.9 888.0,594.2 889.0,594.5 889.9,594.9 890.9,595.2 891.8,595.5 892.8,595.8 893.7,596.2 894.7,596.5 895.6,596.8 896.6,597.1 897.5,597.5 898.5,597.8 899.4,598.1 900.4,598.4 901.3,598.7 902.3,599.0 903.2,599.4 904.2,599.7 905.1,600.0 906.1,600.3 907.0,600.6 908.0,600.9 908.9,601.2 909.9,601.6 910.8,601.9 911.8,602.2 912.7,602.5 913.7,602.8 914.7,603.1 915.6,603.4 916.6,603.7 917.5,604.0 918.5,604.4 919.4,604.7 920.4,605.0 921.3,605.3 922.3,605.6 923.2,605.9 924.2,606.2 925.1,606.5 926.1,606.8 927.0,607.1 928.0,607.4 928.9,607.7 929.9,608.0 930.8,608.3 931.8,608.6 932.7,608.9 933.7,609.2 934.6,609.5 935.6,609.8 936.5,610.1 937.5,610.4 938.4,610.7 939.4,611.0 940.3,611.2 941.3,611.5 942.2,611.8 943.2,612.1 944.1,612.4 945.1,612.7 946.0,612.9 947.0,613.2 948.0,613.5 948.9,613.8 949.9,614.0 950.8,614.3 951.8,614.6 952.7,614.9 953.7,615.1 954.7,615.4 955.6,615.6 956.6,615.9 957.5,616.2 958.5,616.4 959.5,616.7 960.4,616.9 961.4,617.2 962.3,617.4 963.3,617.7 964.3,617.9 965.2,618.2 966.2,618.4 967.2,618.7 968.1,618.9 969.1,619.1 970.1,619.4 971.0,619.6 972.0,619.8 973.0,620.0 973.9,620.3 974.9,620.5 975.9,620.7 976.9,620.9 977.8,621.1 978.8,621.3 979.8,621.5 980.8,621.8 981.7,622.0 982.7,622.2 983.7,622.4 984.7,622.5 985.7,622.7 986.6,622.9 987.6,623.1 988.6,623.3 989.6,623.5 990.6,623.7 991.6,623.8 992.5,624.0 993.5,624.2 994.5,624.3 995.5,624.5 996.5,624.7 997.5,624.8 998.5,625.0 999.5,625.1 1000.5,625.3 1001.5,625.4 1002.5,625.5 1003.5,625.7 1004.5,625.8 1005.5,625.9 1006.5,626.1 1007.5,626.2" fill="none" stroke="#000" stroke-width="2.0" stroke-linejoin="round"/>
<rect x="64.5" y="10.1" width="944.5" height="634.9" fill="none" stroke="#000" stroke-width="2.7"/>
<path d="M64.5,645.0 V657.5 M135.3,645.0 V651.0 M206.2,645.0 V657.5 M277.0,645.0 V651.0 M347.9,645.0 V657.5 M418.7,645.0 V651.0 M489.6,645.0 V657.5 M560.4,645.0 V651.0 M631.2,645.0 V657.5 M702.1,645.0 V651.0 M772.9,645.0 V657.5 M843.8,645.0 V651.0 M914.6,645.0 V657.5 M985.4,645.0 V651.0" stroke="#000" stroke-width="2.5" fill="none"/>
<text transform="translate(64.5,690.4) scale(1,1.090)" font-size="29" text-anchor="middle">3000</text>
<text transform="translate(206.2,690.4) scale(1,1.090)" font-size="29" text-anchor="middle">2970</text>
<text transform="translate(347.9,690.4) scale(1,1.090)" font-size="29" text-anchor="middle">2940</text>
<text transform="translate(489.6,690.4) scale(1,1.090)" font-size="29" text-anchor="middle">2910</text>
<text transform="translate(631.2,690.4) scale(1,1.090)" font-size="29" text-anchor="middle">2880</text>
<text transform="translate(772.9,690.4) scale(1,1.090)" font-size="29" text-anchor="middle">2850</text>
<text transform="translate(914.6,690.4) scale(1,1.090)" font-size="29" text-anchor="middle">2820</text>
<text transform="translate(372.6,751.0) scale(1,1.040)" font-size="35.5">Wavenumber (cm<tspan font-size="23" dy="-14.5">-1</tspan><tspan dy="14.5" dx="2">)</tspan></text>
<text transform="translate(35.5,327.0) rotate(-90) scale(1,1.040)" font-size="36" text-anchor="middle">Absorbance</text>
<line x1="71.0" y1="32.4" x2="137.5" y2="32.4" stroke="#151515" stroke-width="3"/>
<line x1="71.0" y1="68.2" x2="136.0" y2="68.2" stroke="#f84848" stroke-width="3"/>
<text transform="translate(145.0,42.6) scale(1,1.040)" font-size="29.6" fill="#000">Gut</text>
<text transform="translate(149.0,81.2) scale(1,1.040)" font-size="31.5" fill="#f00">Salivary</text>
<text transform="translate(149.0,119.4) scale(1,1.040)" font-size="31.5" fill="#f00">Glands</text>
<line x1="266.0" y1="209.0" x2="266.0" y2="232.6" stroke="#000" stroke-width="2"/>
<text transform="translate(265.6,200.0) scale(1,1.045)" font-size="28.5" text-anchor="middle">2954</text>
<line x1="425.3" y1="55.9" x2="425.3" y2="80.2" stroke="#000" stroke-width="2"/>
<text transform="translate(425.5,46.4) scale(1,1.045)" font-size="28.5" text-anchor="middle">2924</text>
<line x1="654.7" y1="252.0" x2="654.7" y2="293.4" stroke="#000" stroke-width="2"/>
<text transform="translate(649.2,240.2) scale(1,1.045)" font-size="28.5" text-anchor="middle">2876</text>
<line x1="758.8" y1="273.0" x2="758.8" y2="297.1" stroke="#000" stroke-width="2"/>
<text transform="translate(758.5,264.8) scale(1,1.045)" font-size="28.5" text-anchor="middle">2854</text>
<line x1="262.7" y1="417.0" x2="262.7" y2="442.3" stroke="#000" stroke-width="2"/>
<text transform="translate(262.2,409.1) scale(1,1.045)" font-size="28.5" text-anchor="middle">2956</text>
<line x1="422.0" y1="338.7" x2="422.0" y2="363.4" stroke="#000" stroke-width="2"/>
<text transform="translate(421.4,330.5) scale(1,1.045)" font-size="28.5" text-anchor="middle">2928</text>
<line x1="673.2" y1="495.7" x2="673.2" y2="520.0" stroke="#000" stroke-width="2"/>
<text transform="translate(671.0,487.2) scale(1,1.045)" font-size="28.5" text-anchor="middle">2871</text>
<line x1="760.3" y1="468.4" x2="760.3" y2="493.0" stroke="#000" stroke-width="2"/>
<text transform="translate(759.4,454.7) scale(1,1.045)" font-size="28.5" text-anchor="middle">2852</text>
<line x1="1242.5" y1="278.0" x2="1996.5" y2="278.0" stroke="#000" stroke-width="2.4" stroke-dasharray="3.3 10.88" stroke-dashoffset="3.33"/>
<line x1="1282.8" y1="278.0" x2="1282.8" y2="308.0" stroke="#ff2020" stroke-width="1.6" stroke-dasharray="12 11"/>
<line x1="1359.3" y1="277.0" x2="1359.3" y2="306.0" stroke="#ff2020" stroke-width="1.6" stroke-dasharray="12 11"/>
<line x1="1502.7" y1="336.4" x2="1471.2" y2="385.2" stroke="#000" stroke-width="2.0" stroke-dasharray="12 11"/>
<line x1="1508.2" y1="363.8" x2="1508.2" y2="487.0" stroke="#ff2020" stroke-width="1.6" stroke-dasharray="12 11"/>
<line x1="1616.9" y1="389.4" x2="1579.4" y2="437.9" stroke="#000" stroke-width="2.0" stroke-dasharray="12 11"/>
<line x1="1622.5" y1="572.0" x2="1622.5" y2="590.0" stroke="#ff2020" stroke-width="1.6" stroke-dasharray="12 11"/>
<line x1="1767.3" y1="278.2" x2="1767.3" y2="333.5" stroke="#000" stroke-width="3.2" stroke-dasharray="12 11"/>
<line x1="1763.8" y1="277.6" x2="1727.8" y2="398.5" stroke="#ff2020" stroke-width="1.6" stroke-dasharray="12 11"/>
<line x1="1839.4" y1="343.7" x2="1881.0" y2="383.4" stroke="#000" stroke-width="2.0" stroke-dasharray="12 11"/>
<line x1="1840.5" y1="489.0" x2="1840.5" y2="516.0" stroke="#ff2020" stroke-width="1.6" stroke-dasharray="12 11"/>
<path d="M1240.0,278.0 L1240.7,277.9 1241.4,277.7 1242.1,277.6 1242.7,277.5 1243.4,277.4 1244.1,277.3 1244.8,277.2 1245.5,277.1 1246.2,277.0 1246.9,276.9 1247.6,276.8 1248.3,276.7 1249.0,276.7 1249.7,276.6 1250.4,276.5 1251.1,276.5 1251.8,276.4 1252.5,276.4 1253.2,276.3 1253.9,276.3 1254.6,276.2 1255.3,276.2 1256.0,276.2 1256.7,276.1 1257.4,276.1 1258.1,276.1 1258.8,276.0 1259.5,276.0 1260.2,276.0 1260.9,276.0 1261.6,276.0 1262.3,275.9 1263.0,275.9 1263.7,275.9 1264.4,275.9 1265.1,275.9 1265.8,275.9 1266.5,275.8 1267.2,275.8 1267.9,275.8 1268.6,275.8 1269.3,275.8 1270.0,275.8 1270.7,275.8 1271.4,275.7 1272.1,275.7 1272.8,275.7 1273.5,275.7 1274.2,275.7 1274.9,275.6 1275.6,275.6 1276.3,275.6 1277.0,275.5 1277.7,275.5 1278.4,275.5 1279.1,275.4 1279.8,275.4 1280.5,275.3 1281.2,275.3 1281.9,275.2 1282.6,275.2 1283.3,275.1 1284.0,275.1 1284.7,275.0 1285.4,275.0 1286.1,274.9 1286.8,274.8 1287.5,274.7 1288.2,274.7 1288.8,274.6 1289.5,274.5 1290.2,274.4 1290.9,274.4 1291.6,274.3 1292.3,274.2 1293.0,274.1 1293.7,274.0 1294.3,273.9 1295.0,273.9 1295.7,273.8 1296.4,273.7 1297.1,273.6 1297.8,273.5 1298.5,273.4 1299.2,273.3 1299.8,273.2 1300.5,273.1 1301.2,273.1 1301.9,273.0 1302.6,272.9 1303.3,272.8 1304.0,272.7 1304.7,272.6 1305.3,272.5 1306.0,272.4 1306.7,272.3 1307.4,272.3 1308.1,272.2 1308.8,272.1 1309.5,272.0 1310.2,271.9 1310.9,271.8 1311.6,271.8 1312.3,271.7 1312.9,271.6 1313.6,271.5 1314.3,271.4 1315.0,271.4 1315.7,271.3 1316.4,271.2 1317.1,271.2 1317.8,271.1 1318.5,271.0 1319.2,271.0 1319.9,270.9 1320.6,270.9 1321.3,270.8 1322.0,270.8 1322.7,270.7 1323.4,270.7 1324.1,270.6 1324.8,270.6 1325.5,270.5 1326.2,270.5 1326.9,270.5 1327.7,270.4 1328.4,270.4 1329.1,270.3 1329.8,270.3 1330.5,270.3 1331.2,270.2 1331.9,270.2 1332.6,270.2 1333.3,270.1 1334.0,270.1 1334.7,270.0 1335.4,270.0 1336.1,270.0 1336.8,269.9 1337.6,269.9 1338.3,269.8 1339.0,269.8 1339.7,269.8 1340.4,269.7 1341.1,269.7 1341.8,269.6 1342.5,269.6 1343.2,269.5 1343.9,269.5 1344.6,269.4 1345.3,269.4 1346.0,269.3 1346.7,269.2 1347.4,269.2 1348.1,269.1 1348.8,269.1 1349.5,269.0 1350.2,268.9 1350.9,268.8 1351.6,268.8 1352.3,268.7 1353.0,268.6 1353.6,268.5 1354.3,268.4 1355.0,268.3 1355.7,268.2 1356.4,268.1 1357.1,268.0 1357.8,267.9 1358.4,267.8 1359.1,267.6 1359.8,267.5 1360.5,267.4 1361.2,267.3 1361.8,267.1 1362.5,267.0 1363.2,266.8 1363.8,266.7 1364.5,266.5 1365.2,266.3 1365.8,266.2 1366.5,266.0 1367.2,265.8 1367.8,265.6 1368.5,265.4 1369.1,265.2 1369.8,265.0 1370.4,264.8 1371.1,264.6 1371.7,264.4 1372.4,264.1 1373.0,263.9 1373.7,263.6 1374.3,263.4 1374.9,263.1 1375.6,262.9 1376.2,262.6 1376.8,262.3 1377.5,262.0 1378.1,261.8 1378.7,261.5 1379.3,261.2 1380.0,260.9 1380.6,260.6 1381.2,260.3 1381.8,260.0 1382.5,259.6 1383.1,259.3 1383.7,259.0 1384.3,258.7 1384.9,258.4 1385.6,258.0 1386.2,257.7 1386.8,257.4 1387.4,257.0 1388.0,256.7 1388.7,256.4 1389.3,256.0 1389.9,255.7 1390.5,255.3 1391.1,255.0 1391.8,254.7 1392.4,254.3 1393.0,254.0 1393.6,253.7 1394.3,253.3 1394.9,253.0 1395.5,252.6 1396.2,252.3 1396.8,252.0 1397.4,251.6 1398.1,251.3 1398.7,251.0 1399.4,250.7 1400.0,250.3 1400.6,250.0 1401.3,249.7 1401.9,249.4 1402.6,249.1 1403.2,248.8 1403.9,248.5 1404.6,248.2 1405.2,247.9 1405.9,247.6 1406.5,247.3 1407.2,247.1 1407.9,246.8 1408.5,246.5 1409.2,246.3 1409.9,246.0 1410.5,245.8 1411.2,245.6 1411.9,245.3 1412.6,245.1 1413.2,244.9 1413.9,244.7 1414.6,244.5 1415.3,244.3 1415.9,244.1 1416.6,244.0 1417.3,243.8 1418.0,243.6 1418.7,243.5 1419.3,243.4 1420.0,243.3 1420.7,243.2 1421.4,243.1 1422.1,243.0 1422.7,242.9 1423.4,242.8 1424.1,242.8 1424.8,242.7 1425.5,242.7 1426.1,242.7 1426.8,242.7 1427.5,242.7 1428.2,242.8 1428.9,242.8 1429.5,242.9 1430.2,242.9 1430.9,243.0 1431.6,243.1 1432.2,243.2 1432.9,243.3 1433.6,243.5 1434.2,243.6 1434.9,243.8 1435.6,244.0 1436.2,244.2 1436.9,244.4 1437.5,244.6 1438.2,244.8 1438.8,245.0 1439.5,245.3 1440.1,245.6 1440.8,245.8 1441.4,246.1 1442.0,246.4 1442.6,246.7 1443.3,247.0 1443.9,247.4 1444.5,247.7 1445.1,248.0 1445.7,248.4 1446.3,248.8 1446.9,249.2 1447.5,249.5 1448.1,249.9 1448.6,250.3 1449.2,250.8 1449.8,251.2 1450.3,251.6 1450.9,252.1 1451.4,252.5 1451.9,253.0 1452.5,253.4 1453.0,253.9 1453.5,254.4 1454.0,254.9 1454.5,255.4 1455.0,255.9 1455.5,256.4 1456.0,256.9 1456.4,257.5 1456.9,258.0 1457.3,258.6 1457.8,259.1 1458.2,259.7 1458.6,260.2 1459.0,260.8 1459.4,261.4 1459.8,261.9 1460.2,262.5 1460.6,263.1 1461.0,263.7 1461.4,264.3 1461.7,264.9 1462.1,265.5 1462.5,266.1 1462.8,266.7 1463.2,267.3 1463.5,268.0 1463.8,268.6 1464.2,269.2 1464.5,269.8 1464.8,270.5 1465.1,271.1 1465.5,271.7 1465.8,272.4 1466.1,273.0 1466.4,273.6 1466.7,274.3 1467.0,274.9 1467.3,275.5 1467.6,276.2 1467.9,276.8 1468.3,277.4 1468.6,278.1 1468.9,278.7 1469.2,279.3 1469.5,280.0 1469.8,280.6 1470.1,281.2 1470.4,281.9 1470.7,282.5 1471.0,283.1 1471.3,283.7 1471.6,284.4 1472.0,285.0 1472.3,285.6 1472.6,286.2 1472.9,286.9 1473.2,287.5 1473.5,288.1 1473.8,288.7 1474.1,289.3 1474.5,290.0 1474.8,290.6 1475.1,291.2 1475.4,291.8 1475.7,292.4 1476.0,293.0 1476.3,293.7 1476.7,294.3 1477.0,294.9 1477.3,295.5 1477.6,296.1 1477.9,296.7 1478.2,297.4 1478.5,298.0 1478.9,298.6 1479.2,299.2 1479.5,299.8 1479.8,300.4 1480.1,301.1 1480.4,301.7 1480.7,302.3 1481.1,302.9 1481.4,303.5 1481.7,304.2 1482.0,304.8 1482.3,305.4 1482.6,306.0 1482.9,306.7 1483.2,307.3 1483.5,307.9 1483.9,308.5 1484.2,309.2 1484.5,309.8 1484.8,310.4 1485.1,311.1 1485.4,311.7 1485.7,312.3 1486.0,313.0 1486.3,313.6 1486.6,314.2 1486.9,314.9 1487.2,315.5 1487.5,316.2 1487.8,316.8 1488.2,317.5 1488.5,318.1 1488.8,318.7 1489.1,319.4 1489.4,320.0 1489.8,320.6 1490.1,321.3 1490.5,321.9 1490.8,322.5 1491.2,323.1 1491.5,323.7 1491.9,324.3 1492.3,324.9 1492.7,325.5 1493.2,326.1 1493.6,326.7 1494.0,327.3 1494.5,327.8 1495.0,328.4 1495.5,328.9 1496.0,329.5 1496.5,330.0 1497.0,330.5 1497.6,331.0 1498.2,331.4 1498.8,331.9 1499.3,332.3 1500.0,332.6 1500.6,333.0 1501.2,333.3 1501.8,333.5 1502.5,333.7 1503.1,333.9 1503.8,334.0 1504.4,334.1 1505.1,334.1 1505.7,334.0 1506.4,333.9 1507.0,333.7 1507.7,333.5 1508.3,333.3 1509.0,333.0 1509.6,332.7 1510.2,332.3 1510.8,331.9 1511.4,331.5 1511.9,331.0 1512.5,330.5 1513.0,330.0 1513.5,329.5 1513.9,329.0 1514.4,328.4 1514.8,327.8 1515.2,327.2 1515.6,326.6 1516.0,326.0 1516.3,325.4 1516.7,324.8 1517.0,324.1 1517.3,323.4 1517.6,322.8 1517.9,322.1 1518.1,321.4 1518.4,320.7 1518.7,320.1 1518.9,319.4 1519.1,318.7 1519.4,318.0 1519.6,317.3 1519.9,316.6 1520.1,315.9 1520.3,315.2 1520.5,314.5 1520.8,313.8 1521.0,313.2 1521.2,312.5 1521.4,311.8 1521.7,311.1 1521.9,310.4 1522.1,309.8 1522.3,309.1 1522.6,308.4 1522.8,307.8 1523.0,307.1 1523.2,306.4 1523.4,305.8 1523.6,305.1 1523.9,304.4 1524.1,303.8 1524.3,303.1 1524.5,302.5 1524.7,301.8 1524.9,301.1 1525.1,300.5 1525.3,299.8 1525.5,299.2 1525.7,298.5 1526.0,297.9 1526.2,297.2 1526.4,296.5 1526.6,295.9 1526.8,295.2 1527.0,294.6 1527.2,293.9 1527.4,293.3 1527.6,292.6 1527.7,291.9 1527.9,291.3 1528.1,290.6 1528.3,290.0 1528.5,289.3 1528.7,288.6 1528.9,288.0 1529.1,287.3 1529.3,286.6 1529.5,286.0 1529.7,285.3 1529.8,284.6 1530.0,284.0 1530.2,283.3 1530.4,282.6 1530.6,281.9 1530.8,281.3 1530.9,280.6 1531.1,279.9 1531.3,279.2 1531.5,278.5 1531.6,277.9 1531.8,277.2 1532.0,276.5 1532.2,275.8 1532.4,275.1 1532.5,274.4 1532.7,273.7 1532.9,273.1 1533.1,272.4 1533.3,271.7 1533.4,271.0 1533.6,270.3 1533.8,269.6 1534.0,268.9 1534.2,268.3 1534.4,267.6 1534.5,266.9 1534.7,266.2 1534.9,265.5 1535.1,264.9 1535.3,264.2 1535.5,263.5 1535.7,262.8 1535.9,262.2 1536.1,261.5 1536.3,260.9 1536.6,260.2 1536.8,259.5 1537.0,258.9 1537.2,258.2 1537.4,257.6 1537.7,256.9 1537.9,256.3 1538.1,255.6 1538.3,255.0 1538.6,254.4 1538.8,253.7 1539.0,253.1 1539.3,252.4 1539.5,251.8 1539.7,251.2 1540.0,250.5 1540.2,249.9 1540.5,249.2 1540.7,248.6 1540.9,247.9 1541.2,247.3 1541.4,246.6 1541.7,246.0 1541.9,245.3 1542.1,244.7 1542.4,244.0 1542.6,243.3 1542.8,242.7 1543.1,242.0 1543.3,241.3 1543.5,240.6 1543.8,240.0 1544.0,239.3 1544.2,238.6 1544.5,237.9 1544.7,237.2 1545.0,236.5 1545.2,235.8 1545.5,235.2 1545.8,234.5 1546.0,233.8 1546.3,233.1 1546.6,232.4 1546.9,231.7 1547.2,231.1 1547.6,230.4 1547.9,229.7 1548.3,229.0 1548.7,228.4 1549.1,227.7 1549.5,227.1 1549.9,226.4 1550.4,225.8 1550.8,225.2 1551.3,224.6 1551.8,224.0 1552.3,223.5 1552.8,223.0 1553.4,222.5 1553.9,222.1 1554.5,221.7 1555.0,221.4 1555.6,221.2 1556.2,221.0 1556.7,220.8 1557.3,220.8 1557.9,220.8 1558.5,220.9 1559.0,221.1 1559.6,221.3 1560.2,221.6 1560.7,221.9 1561.3,222.3 1561.8,222.7 1562.4,223.2 1562.9,223.7 1563.4,224.2 1563.8,224.8 1564.3,225.3 1564.7,225.9 1565.1,226.5 1565.5,227.1 1565.9,227.7 1566.3,228.3 1566.6,229.0 1567.0,229.6 1567.3,230.3 1567.6,231.0 1567.9,231.6 1568.2,232.3 1568.4,233.0 1568.7,233.7 1569.0,234.4 1569.2,235.1 1569.5,235.8 1569.7,236.6 1569.9,237.3 1570.2,238.0 1570.4,238.7 1570.6,239.4 1570.9,240.1 1571.1,240.8 1571.3,241.5 1571.5,242.2 1571.7,242.9 1571.9,243.6 1572.2,244.3 1572.4,245.0 1572.6,245.7 1572.8,246.4 1573.0,247.1 1573.2,247.8 1573.4,248.5 1573.6,249.1 1573.8,249.8 1574.0,250.5 1574.2,251.2 1574.4,251.8 1574.6,252.5 1574.8,253.2 1575.0,253.9 1575.2,254.5 1575.4,255.2 1575.6,255.9 1575.8,256.6 1576.0,257.2 1576.2,257.9 1576.4,258.6 1576.6,259.2 1576.8,259.9 1576.9,260.5 1577.1,261.2 1577.3,261.9 1577.5,262.5 1577.7,263.2 1577.9,263.9 1578.0,264.5 1578.2,265.2 1578.4,265.8 1578.6,266.5 1578.7,267.2 1578.9,267.8 1579.1,268.5 1579.3,269.1 1579.4,269.8 1579.6,270.5 1579.8,271.1 1579.9,271.8 1580.1,272.5 1580.3,273.1 1580.4,273.8 1580.6,274.4 1580.8,275.1 1580.9,275.8 1581.1,276.4 1581.3,277.1 1581.4,277.8 1581.6,278.4 1581.8,279.1 1581.9,279.8 1582.1,280.4 1582.2,281.1 1582.4,281.8 1582.5,282.5 1582.7,283.1 1582.9,283.8 1583.0,284.5 1583.2,285.2 1583.3,285.8 1583.5,286.5 1583.6,287.2 1583.8,287.9 1583.9,288.6 1584.1,289.2 1584.2,289.9 1584.4,290.6 1584.5,291.3 1584.7,292.0 1584.8,292.6 1585.0,293.3 1585.1,294.0 1585.3,294.7 1585.4,295.4 1585.6,296.1 1585.7,296.8 1585.9,297.4 1586.0,298.1 1586.2,298.8 1586.3,299.5 1586.5,300.2 1586.6,300.9 1586.8,301.6 1586.9,302.3 1587.1,303.0 1587.2,303.7 1587.4,304.3 1587.5,305.0 1587.7,305.7 1587.8,306.4 1588.0,307.1 1588.1,307.8 1588.3,308.5 1588.4,309.2 1588.6,309.9 1588.7,310.6 1588.9,311.3 1589.0,311.9 1589.2,312.6 1589.3,313.3 1589.5,314.0 1589.6,314.7 1589.8,315.4 1589.9,316.1 1590.1,316.8 1590.2,317.5 1590.4,318.2 1590.5,318.9 1590.7,319.6 1590.8,320.2 1591.0,320.9 1591.1,321.6 1591.3,322.3 1591.4,323.0 1591.6,323.7 1591.7,324.4 1591.9,325.1 1592.1,325.8 1592.2,326.4 1592.4,327.1 1592.5,327.8 1592.7,328.5 1592.9,329.2 1593.0,329.9 1593.2,330.6 1593.3,331.2 1593.5,331.9 1593.7,332.6 1593.8,333.3 1594.0,334.0 1594.2,334.7 1594.3,335.3 1594.5,336.0 1594.7,336.7 1594.8,337.4 1595.0,338.1 1595.2,338.7 1595.4,339.4 1595.5,340.1 1595.7,340.8 1595.9,341.4 1596.1,342.1 1596.3,342.8 1596.4,343.5 1596.6,344.1 1596.8,344.8 1597.0,345.5 1597.2,346.1 1597.3,346.8 1597.5,347.5 1597.7,348.1 1597.9,348.8 1598.1,349.5 1598.3,350.1 1598.5,350.8 1598.7,351.4 1598.9,352.1 1599.1,352.7 1599.3,353.4 1599.5,354.1 1599.7,354.7 1599.9,355.4 1600.1,356.0 1600.3,356.7 1600.5,357.3 1600.7,358.0 1600.9,358.6 1601.1,359.3 1601.3,359.9 1601.6,360.5 1601.8,361.2 1602.0,361.8 1602.2,362.5 1602.4,363.1 1602.7,363.7 1602.9,364.4 1603.1,365.0 1603.3,365.7 1603.6,366.3 1603.8,367.0 1604.0,367.6 1604.3,368.3 1604.5,369.0 1604.8,369.6 1605.0,370.3 1605.3,371.0 1605.5,371.7 1605.8,372.4 1606.0,373.0 1606.3,373.7 1606.5,374.5 1606.8,375.2 1607.1,375.9 1607.3,376.6 1607.6,377.4 1607.9,378.1 1608.1,378.8 1608.4,379.6 1608.7,380.4 1609.0,381.1 1609.3,381.9 1609.6,382.6 1609.9,383.4 1610.2,384.1 1610.5,384.8 1610.9,385.4 1611.3,386.0 1611.6,386.6 1612.0,387.2 1612.4,387.7 1612.9,388.2 1613.3,388.6 1613.8,389.0 1614.3,389.3 1614.8,389.5 1615.3,389.7 1615.9,389.8 1616.4,389.8 1617.0,389.8 1617.6,389.7 1618.3,389.5 1618.9,389.3 1619.5,389.1 1620.1,388.8 1620.7,388.4 1621.2,388.1 1621.8,387.6 1622.3,387.2 1622.8,386.7 1623.3,386.2 1623.7,385.6 1624.2,385.1 1624.6,384.5 1625.0,383.8 1625.3,383.2 1625.7,382.5 1626.1,381.9 1626.4,381.2 1626.7,380.5 1627.0,379.7 1627.3,379.0 1627.6,378.3 1627.9,377.5 1628.1,376.8 1628.4,376.1 1628.7,375.3 1628.9,374.6 1629.2,373.8 1629.4,373.1 1629.6,372.4 1629.9,371.7 1630.1,370.9 1630.4,370.2 1630.6,369.5 1630.8,368.8 1631.1,368.2 1631.3,367.5 1631.5,366.8 1631.7,366.1 1632.0,365.4 1632.2,364.8 1632.4,364.1 1632.6,363.5 1632.8,362.8 1633.0,362.2 1633.3,361.5 1633.5,360.9 1633.7,360.2 1633.9,359.6 1634.1,358.9 1634.3,358.3 1634.5,357.7 1634.7,357.0 1634.9,356.4 1635.1,355.7 1635.3,355.1 1635.5,354.5 1635.7,353.8 1635.9,353.2 1636.1,352.5 1636.3,351.9 1636.5,351.2 1636.7,350.6 1636.9,349.9 1637.1,349.3 1637.3,348.6 1637.4,348.0 1637.6,347.3 1637.8,346.7 1638.0,346.0 1638.2,345.3 1638.4,344.7 1638.6,344.0 1638.8,343.4 1638.9,342.7 1639.1,342.0 1639.3,341.3 1639.5,340.7 1639.7,340.0 1639.9,339.3 1640.0,338.7 1640.2,338.0 1640.4,337.3 1640.6,336.6 1640.8,335.9 1640.9,335.3 1641.1,334.6 1641.3,333.9 1641.5,333.2 1641.6,332.5 1641.8,331.8 1642.0,331.2 1642.2,330.5 1642.3,329.8 1642.5,329.1 1642.7,328.4 1642.9,327.7 1643.0,327.0 1643.2,326.4 1643.4,325.7 1643.6,325.0 1643.7,324.3 1643.9,323.6 1644.1,322.9 1644.3,322.2 1644.4,321.5 1644.6,320.8 1644.8,320.1 1644.9,319.5 1645.1,318.8 1645.3,318.1 1645.4,317.4 1645.6,316.7 1645.8,316.0 1646.0,315.3 1646.1,314.6 1646.3,313.9 1646.5,313.3 1646.6,312.6 1646.8,311.9 1647.0,311.2 1647.2,310.5 1647.3,309.8 1647.5,309.1 1647.7,308.5 1647.8,307.8 1648.0,307.1 1648.2,306.4 1648.4,305.7 1648.5,305.0 1648.7,304.4 1648.9,303.7 1649.0,303.0 1649.2,302.3 1649.4,301.7 1649.6,301.0 1649.7,300.3 1649.9,299.6 1650.1,299.0 1650.3,298.3 1650.4,297.6 1650.6,297.0 1650.8,296.3 1651.0,295.6 1651.1,295.0 1651.3,294.3 1651.5,293.7 1651.7,293.0 1651.8,292.3 1652.0,291.7 1652.2,291.0 1652.4,290.3 1652.5,289.7 1652.7,289.0 1652.9,288.4 1653.1,287.7 1653.2,287.0 1653.4,286.4 1653.6,285.7 1653.7,285.1 1653.9,284.4 1654.1,283.7 1654.2,283.1 1654.4,282.4 1654.6,281.7 1654.7,281.0 1654.9,280.4 1655.0,279.7 1655.2,279.0 1655.4,278.3 1655.5,277.6 1655.7,277.0 1655.8,276.3 1656.0,275.6 1656.1,274.9 1656.3,274.2 1656.4,273.5 1656.5,272.8 1656.7,272.1 1656.8,271.4 1657.0,270.7 1657.1,270.0 1657.3,269.3 1657.4,268.6 1657.5,267.9 1657.7,267.2 1657.8,266.5 1658.0,265.8 1658.1,265.1 1658.3,264.4 1658.5,263.7 1658.6,263.0 1658.8,262.3 1658.9,261.6 1659.1,260.9 1659.3,260.2 1659.4,259.5 1659.6,258.8 1659.8,258.1 1660.0,257.4 1660.2,256.7 1660.4,256.0 1660.6,255.3 1660.8,254.6 1661.0,254.0 1661.2,253.3 1661.4,252.6 1661.6,251.9 1661.8,251.3 1662.1,250.6 1662.3,249.9 1662.6,249.3 1662.8,248.6 1663.1,248.0 1663.4,247.3 1663.6,246.7 1663.9,246.1 1664.2,245.4 1664.5,244.8 1664.8,244.2 1665.2,243.6 1665.5,243.0 1665.8,242.4 1666.2,241.8 1666.5,241.2 1666.9,240.6 1667.3,240.0 1667.6,239.5 1668.0,238.9 1668.5,238.3 1668.9,237.8 1669.3,237.2 1669.7,236.7 1670.2,236.2 1670.6,235.7 1671.1,235.1 1671.6,234.6 1672.1,234.1 1672.6,233.7 1673.1,233.2 1673.7,232.7 1674.2,232.2 1674.8,231.8 1675.4,231.4 1675.9,231.0 1676.5,230.6 1677.1,230.2 1677.7,229.9 1678.4,229.6 1679.0,229.3 1679.6,229.1 1680.3,228.9 1680.9,228.8 1681.6,228.7 1682.2,228.6 1682.9,228.6 1683.5,228.6 1684.2,228.7 1684.9,228.8 1685.6,228.9 1686.2,229.1 1686.9,229.3 1687.6,229.6 1688.2,229.8 1688.9,230.1 1689.6,230.4 1690.2,230.7 1690.9,231.1 1691.5,231.4 1692.2,231.8 1692.8,232.2 1693.4,232.5 1694.0,232.9 1694.7,233.3 1695.3,233.7 1695.9,234.1 1696.5,234.5 1697.1,234.9 1697.7,235.3 1698.3,235.6 1698.8,236.0 1699.4,236.4 1700.0,236.8 1700.6,237.1 1701.2,237.5 1701.8,237.8 1702.4,238.2 1703.0,238.5 1703.6,238.8 1704.2,239.1 1704.9,239.4 1705.5,239.7 1706.1,240.0 1706.7,240.2 1707.4,240.5 1708.0,240.7 1708.7,241.0 1709.3,241.2 1710.0,241.4 1710.6,241.7 1711.3,241.9 1711.9,242.1 1712.6,242.4 1713.3,242.6 1713.9,242.8 1714.6,243.1 1715.3,243.3 1715.9,243.5 1716.6,243.8 1717.3,244.1 1718.0,244.3 1718.6,244.6 1719.3,244.8 1720.0,245.1 1720.7,245.4 1721.3,245.7 1722.0,246.0 1722.6,246.3 1723.3,246.6 1723.9,246.9 1724.6,247.2 1725.2,247.5 1725.8,247.8 1726.4,248.1 1727.0,248.4 1727.6,248.8 1728.2,249.1 1728.8,249.5 1729.4,249.8 1730.0,250.2 1730.5,250.6 1731.1,250.9 1731.6,251.3 1732.2,251.7 1732.7,252.1 1733.3,252.5 1733.8,252.9 1734.3,253.3 1734.9,253.7 1735.4,254.1 1735.9,254.5 1736.4,255.0 1736.9,255.4 1737.4,255.8 1737.9,256.3 1738.4,256.7 1738.9,257.2 1739.4,257.7 1739.9,258.1 1740.4,258.6 1740.9,259.1 1741.4,259.6 1741.9,260.1 1742.4,260.6 1742.9,261.1 1743.4,261.6 1743.9,262.1 1744.4,262.7 1744.9,263.2 1745.4,263.8 1745.9,264.3 1746.4,264.9 1746.9,265.4 1747.4,266.0 1747.9,266.6 1748.4,267.2 1749.0,267.7 1749.5,268.3 1750.0,268.9 1750.5,269.5 1751.1,270.1 1751.6,270.6 1752.1,271.2 1752.7,271.7 1753.2,272.2 1753.8,272.7 1754.4,273.2 1754.9,273.7 1755.5,274.1 1756.1,274.6 1756.7,274.9 1757.3,275.3 1757.9,275.6 1758.5,275.9 1759.1,276.2 1759.7,276.4 1760.3,276.6 1760.9,276.8 1761.5,277.0 1762.2,277.1 1762.8,277.2 1763.5,277.3 1764.1,277.3 1764.8,277.4 1765.4,277.4 1766.1,277.4 1766.7,277.3 1767.4,277.3 1768.1,277.2 1768.7,277.2 1769.4,277.1 1770.1,277.0 1770.8,276.8 1771.4,276.7 1772.1,276.6 1772.8,276.4 1773.5,276.2 1774.2,276.0 1774.9,275.8 1775.6,275.6 1776.2,275.4 1776.9,275.2 1777.6,275.0 1778.3,274.7 1779.0,274.5 1779.7,274.3 1780.4,274.0 1781.1,273.8 1781.8,273.5 1782.5,273.3 1783.2,273.1 1783.8,272.8 1784.5,272.6 1785.2,272.3 1785.9,272.1 1786.6,271.9 1787.3,271.7 1787.9,271.5 1788.6,271.3 1789.3,271.1 1789.9,271.0 1790.6,270.8 1791.2,270.7 1791.9,270.6 1792.5,270.6 1793.2,270.5 1793.8,270.5 1794.4,270.6 1795.1,270.6 1795.7,270.7 1796.3,270.9 1796.9,271.0 1797.5,271.2 1798.0,271.5 1798.6,271.8 1799.2,272.1 1799.7,272.5 1800.3,273.0 1800.8,273.4 1801.3,273.9 1801.8,274.5 1802.3,275.1 1802.8,275.7 1803.3,276.3 1803.8,277.0 1804.3,277.7 1804.7,278.4 1805.2,279.1 1805.6,279.8 1806.0,280.5 1806.4,281.2 1806.8,281.9 1807.2,282.6 1807.6,283.4 1807.9,284.1 1808.3,284.7 1808.6,285.4 1808.9,286.1 1809.3,286.8 1809.6,287.4 1809.9,288.1 1810.2,288.8 1810.5,289.4 1810.8,290.0 1811.0,290.7 1811.3,291.3 1811.6,291.9 1811.8,292.6 1812.1,293.2 1812.3,293.8 1812.6,294.4 1812.8,295.0 1813.1,295.7 1813.3,296.3 1813.6,296.9 1813.8,297.5 1814.1,298.1 1814.3,298.7 1814.5,299.3 1814.8,299.9 1815.0,300.6 1815.3,301.2 1815.5,301.8 1815.8,302.4 1816.0,303.0 1816.3,303.6 1816.6,304.3 1816.8,304.9 1817.1,305.5 1817.4,306.1 1817.6,306.8 1817.9,307.4 1818.2,308.0 1818.4,308.7 1818.7,309.3 1819.0,310.0 1819.2,310.6 1819.5,311.2 1819.8,311.9 1820.1,312.5 1820.3,313.2 1820.6,313.8 1820.9,314.5 1821.1,315.1 1821.4,315.8 1821.6,316.4 1821.9,317.1 1822.2,317.8 1822.4,318.4 1822.7,319.1 1822.9,319.7 1823.2,320.4 1823.4,321.1 1823.6,321.7 1823.9,322.4 1824.1,323.0 1824.4,323.7 1824.6,324.4 1824.9,325.0 1825.1,325.7 1825.4,326.4 1825.6,327.0 1825.9,327.7 1826.2,328.4 1826.5,329.0 1826.8,329.7 1827.1,330.3 1827.4,331.0 1827.7,331.6 1828.0,332.3 1828.4,332.9 1828.7,333.6 1829.1,334.2 1829.5,334.9 1829.9,335.5 1830.3,336.2 1830.7,336.8 1831.1,337.4 1831.6,338.1 1832.1,338.7 1832.6,339.3 1833.1,339.8 1833.6,340.4 1834.1,340.9 1834.7,341.4 1835.2,341.8 1835.8,342.3 1836.3,342.6 1836.9,342.9 1837.5,343.1 1838.0,343.3 1838.6,343.4 1839.2,343.5 1839.8,343.4 1840.4,343.3 1841.0,343.2 1841.6,342.9 1842.2,342.6 1842.8,342.3 1843.3,341.9 1843.9,341.5 1844.5,341.1 1845.0,340.6 1845.6,340.1 1846.1,339.6 1846.6,339.1 1847.1,338.5 1847.6,338.0 1848.1,337.4 1848.5,336.8 1849.0,336.3 1849.4,335.7 1849.8,335.1 1850.2,334.5 1850.6,333.9 1851.0,333.3 1851.4,332.7 1851.7,332.1 1852.1,331.4 1852.4,330.8 1852.7,330.2 1853.0,329.5 1853.4,328.9 1853.6,328.3 1853.9,327.6 1854.2,326.9 1854.5,326.3 1854.8,325.6 1855.0,325.0 1855.3,324.3 1855.5,323.6 1855.7,322.9 1856.0,322.3 1856.2,321.6 1856.4,320.9 1856.6,320.2 1856.8,319.5 1857.0,318.8 1857.2,318.1 1857.4,317.4 1857.6,316.8 1857.8,316.1 1858.0,315.4 1858.2,314.7 1858.4,314.0 1858.6,313.3 1858.8,312.6 1859.0,311.9 1859.1,311.2 1859.3,310.6 1859.5,309.9 1859.7,309.2 1859.9,308.5 1860.1,307.8 1860.3,307.1 1860.5,306.5 1860.7,305.8 1860.9,305.1 1861.1,304.5 1861.3,303.8 1861.5,303.1 1861.7,302.5 1861.9,301.8 1862.1,301.2 1862.4,300.5 1862.6,299.9 1862.8,299.2 1863.0,298.6 1863.2,297.9 1863.5,297.3 1863.7,296.6 1863.9,296.0 1864.1,295.3 1864.4,294.7 1864.6,294.0 1864.8,293.4 1865.0,292.7 1865.3,292.1 1865.5,291.4 1865.7,290.8 1865.9,290.1 1866.1,289.4 1866.3,288.8 1866.5,288.1 1866.8,287.4 1867.0,286.8 1867.2,286.1 1867.4,285.4 1867.6,284.7 1867.8,284.0 1868.0,283.4 1868.1,282.7 1868.3,282.0 1868.5,281.3 1868.7,280.6 1868.9,279.9 1869.1,279.2 1869.3,278.5 1869.5,277.8 1869.6,277.1 1869.8,276.5 1870.0,275.8 1870.2,275.1 1870.3,274.4 1870.5,273.7 1870.7,273.0 1870.9,272.3 1871.0,271.7 1871.2,271.0 1871.4,270.3 1871.5,269.6 1871.7,269.0 1871.9,268.3 1872.0,267.6 1872.2,267.0 1872.4,266.3 1872.5,265.7 1872.7,265.0 1872.9,264.4 1873.0,263.7 1873.2,263.1 1873.4,262.4 1873.5,261.8 1873.7,261.2 1873.9,260.5 1874.1,259.9 1874.2,259.3 1874.4,258.6 1874.6,258.0 1874.8,257.4 1875.0,256.7 1875.2,256.1 1875.4,255.4 1875.6,254.8 1875.8,254.2 1876.0,253.5 1876.2,252.8 1876.5,252.2 1876.7,251.5 1877.0,250.8 1877.2,250.2 1877.5,249.5 1877.7,248.8 1878.0,248.1 1878.3,247.4 1878.6,246.7 1878.9,245.9 1879.2,245.2 1879.6,244.5 1879.9,243.8 1880.2,243.0 1880.6,242.3 1881.0,241.6 1881.3,240.9 1881.7,240.1 1882.1,239.5 1882.5,238.8 1882.9,238.1 1883.4,237.5 1883.8,236.8 1884.3,236.2 1884.7,235.6 1885.2,235.1 1885.7,234.6 1886.1,234.1 1886.6,233.6 1887.1,233.2 1887.7,232.8 1888.2,232.4 1888.7,232.1 1889.3,231.9 1889.8,231.6 1890.4,231.5 1891.0,231.4 1891.6,231.3 1892.2,231.3 1892.8,231.3 1893.4,231.4 1894.1,231.5 1894.7,231.7 1895.3,232.0 1895.9,232.3 1896.6,232.6 1897.2,232.9 1897.8,233.3 1898.4,233.7 1899.0,234.2 1899.5,234.7 1900.1,235.1 1900.6,235.7 1901.1,236.2 1901.6,236.7 1902.1,237.3 1902.5,237.9 1903.0,238.5 1903.4,239.1 1903.8,239.7 1904.2,240.3 1904.6,241.0 1905.0,241.6 1905.4,242.2 1905.8,242.9 1906.1,243.5 1906.5,244.2 1906.9,244.8 1907.2,245.4 1907.6,246.1 1907.9,246.7 1908.3,247.3 1908.7,247.9 1909.0,248.5 1909.4,249.1 1909.8,249.7 1910.1,250.3 1910.5,250.8 1910.9,251.4 1911.2,252.0 1911.6,252.5 1912.0,253.1 1912.4,253.6 1912.8,254.2 1913.2,254.7 1913.6,255.3 1914.0,255.8 1914.4,256.4 1914.8,256.9 1915.2,257.5 1915.6,258.0 1916.0,258.6 1916.4,259.2 1916.8,259.7 1917.2,260.3 1917.6,260.9 1918.1,261.4 1918.5,262.0 1918.9,262.6 1919.4,263.2 1919.8,263.7 1920.3,264.3 1920.7,264.9 1921.2,265.4 1921.7,266.0 1922.1,266.5 1922.6,267.1 1923.1,267.6 1923.6,268.1 1924.1,268.6 1924.6,269.2 1925.1,269.6 1925.6,270.1 1926.1,270.6 1926.7,271.1 1927.2,271.5 1927.8,271.9 1928.3,272.3 1928.9,272.7 1929.5,273.1 1930.0,273.5 1930.6,273.8 1931.2,274.1 1931.8,274.4 1932.5,274.7 1933.1,274.9 1933.7,275.2 1934.4,275.4 1935.0,275.6 1935.7,275.7 1936.4,275.9 1937.0,276.0 1937.7,276.1 1938.4,276.2 1939.1,276.3 1939.8,276.4 1940.5,276.4 1941.2,276.5 1941.9,276.5 1942.6,276.6 1943.3,276.6 1944.0,276.6 1944.7,276.6 1945.4,276.7 1946.1,276.7 1946.8,276.7 1947.5,276.7 1948.2,276.7 1948.9,276.7 1949.7,276.7 1950.4,276.7 1951.1,276.6 1951.8,276.6 1952.5,276.6 1953.2,276.6 1953.9,276.6 1954.6,276.5 1955.3,276.5 1956.0,276.5 1956.7,276.4 1957.3,276.4 1958.0,276.4 1958.7,276.3 1959.4,276.3 1960.1,276.2 1960.8,276.2 1961.5,276.2 1962.2,276.1 1962.9,276.1 1963.6,276.0 1964.3,276.0 1965.0,275.9 1965.7,275.9 1966.4,275.8 1967.1,275.8 1967.8,275.7 1968.5,275.7 1969.2,275.7 1969.9,275.6 1970.6,275.6 1971.3,275.5 1972.0,275.5 1972.7,275.4 1973.4,275.4 1974.1,275.4 1974.8,275.3 1975.5,275.3 1976.2,275.3 1976.9,275.2 1977.6,275.2 1978.3,275.2 1979.0,275.2 1979.7,275.2 1980.4,275.2 1981.0,275.1 1981.7,275.1 1982.4,275.1 1983.1,275.1 1983.8,275.1 1984.5,275.1 1985.2,275.1 1985.9,275.2 1986.6,275.2 1987.3,275.2 1988.0,275.2 1988.8,275.3 1989.5,275.3 1990.2,275.4 1990.9,275.4 1991.6,275.5 1992.3,275.5 1993.0,275.6 1993.7,275.7 1994.4,275.7 1995.1,275.8 1995.8,275.9 1996.5,276.0" fill="none" stroke="#3c3c3c" stroke-width="2.0" stroke-linejoin="round"/>
<path d="M1240.0,273.5 L1240.7,273.1 1241.4,272.8 1242.0,272.5 1242.7,272.2 1243.4,272.0 1244.1,271.7 1244.8,271.5 1245.5,271.4 1246.1,271.2 1246.8,271.0 1247.5,270.9 1248.2,270.8 1248.9,270.7 1249.6,270.7 1250.2,270.6 1250.9,270.6 1251.6,270.6 1252.3,270.6 1253.0,270.6 1253.7,270.7 1254.4,270.7 1255.0,270.8 1255.7,270.8 1256.4,270.9 1257.1,271.0 1257.8,271.1 1258.5,271.3 1259.1,271.4 1259.8,271.5 1260.5,271.7 1261.2,271.8 1261.9,272.0 1262.6,272.2 1263.2,272.3 1263.9,272.5 1264.6,272.7 1265.3,272.9 1266.0,273.1 1266.7,273.3 1267.3,273.5 1268.0,273.7 1268.7,273.9 1269.4,274.1 1270.1,274.3 1270.8,274.5 1271.4,274.7 1272.1,274.8 1272.8,275.0 1273.5,275.2 1274.2,275.4 1274.8,275.6 1275.5,275.7 1276.2,275.9 1276.9,276.1 1277.6,276.2 1278.2,276.3 1278.9,276.5 1279.6,276.6 1280.3,276.7 1281.0,276.8 1281.6,276.9 1282.3,277.0 1283.0,277.0 1283.7,277.1 1284.4,277.1 1285.0,277.1 1285.7,277.1 1286.4,277.1 1287.1,277.1 1287.7,277.0 1288.4,276.9 1289.1,276.9 1289.8,276.8 1290.4,276.6 1291.1,276.5 1291.8,276.3 1292.5,276.1 1293.1,275.9 1293.8,275.7 1294.5,275.4 1295.2,275.2 1295.8,274.9 1296.5,274.6 1297.2,274.3 1297.8,274.0 1298.5,273.6 1299.2,273.3 1299.9,272.9 1300.5,272.6 1301.2,272.2 1301.9,271.8 1302.5,271.5 1303.2,271.1 1303.9,270.7 1304.5,270.3 1305.2,269.9 1305.9,269.5 1306.5,269.2 1307.2,268.8 1307.9,268.4 1308.5,268.0 1309.2,267.7 1309.9,267.3 1310.5,267.0 1311.2,266.6 1311.9,266.3 1312.5,266.0 1313.2,265.7 1313.8,265.4 1314.5,265.2 1315.2,264.9 1315.8,264.7 1316.5,264.5 1317.1,264.3 1317.8,264.1 1318.5,264.0 1319.1,263.8 1319.8,263.7 1320.4,263.7 1321.1,263.6 1321.8,263.6 1322.4,263.6 1323.1,263.6 1323.7,263.6 1324.4,263.7 1325.0,263.7 1325.7,263.8 1326.4,263.9 1327.0,264.0 1327.7,264.2 1328.3,264.3 1329.0,264.5 1329.6,264.7 1330.3,264.9 1330.9,265.1 1331.6,265.3 1332.2,265.5 1332.9,265.8 1333.5,266.0 1334.2,266.3 1334.8,266.6 1335.5,266.9 1336.1,267.2 1336.8,267.5 1337.4,267.8 1338.1,268.1 1338.7,268.4 1339.3,268.7 1340.0,269.1 1340.6,269.4 1341.3,269.7 1341.9,270.1 1342.6,270.4 1343.2,270.7 1343.8,271.1 1344.5,271.4 1345.1,271.7 1345.8,272.1 1346.4,272.4 1347.0,272.7 1347.7,273.0 1348.3,273.3 1348.9,273.6 1349.6,273.9 1350.2,274.2 1350.8,274.5 1351.5,274.7 1352.1,275.0 1352.7,275.2 1353.4,275.4 1354.0,275.7 1354.6,275.9 1355.3,276.0 1355.9,276.2 1356.5,276.4 1357.1,276.5 1357.8,276.6 1358.4,276.7 1359.0,276.8 1359.6,276.8 1360.3,276.9 1360.9,276.9 1361.5,276.9 1362.1,276.9 1362.7,276.8 1363.3,276.7 1364.0,276.6 1364.6,276.5 1365.2,276.3 1365.8,276.1 1366.4,275.9 1367.0,275.6 1367.6,275.4 1368.3,275.1 1368.9,274.7 1369.5,274.4 1370.1,274.0 1370.7,273.6 1371.3,273.1 1371.9,272.7 1372.5,272.2 1373.1,271.7 1373.6,271.2 1374.2,270.7 1374.8,270.1 1375.4,269.6 1376.0,269.0 1376.5,268.4 1377.1,267.8 1377.6,267.3 1378.2,266.7 1378.7,266.1 1379.2,265.4 1379.8,264.8 1380.3,264.2 1380.8,263.6 1381.3,263.0 1381.8,262.4 1382.3,261.8 1382.8,261.2 1383.2,260.6 1383.7,260.0 1384.1,259.5 1384.6,258.9 1385.0,258.3 1385.5,257.8 1385.9,257.2 1386.3,256.6 1386.7,256.1 1387.2,255.5 1387.6,255.0 1388.0,254.4 1388.4,253.9 1388.8,253.4 1389.2,252.8 1389.6,252.3 1390.0,251.8 1390.4,251.3 1390.8,250.7 1391.3,250.2 1391.7,249.7 1392.1,249.2 1392.5,248.7 1392.9,248.2 1393.3,247.7 1393.7,247.2 1394.2,246.7 1394.6,246.2 1395.0,245.7 1395.5,245.2 1395.9,244.7 1396.4,244.2 1396.9,243.7 1397.3,243.2 1397.8,242.7 1398.3,242.2 1398.8,241.7 1399.2,241.3 1399.7,240.8 1400.2,240.3 1400.7,239.8 1401.3,239.4 1401.8,238.9 1402.3,238.4 1402.8,238.0 1403.3,237.5 1403.9,237.1 1404.4,236.6 1405.0,236.2 1405.5,235.7 1406.1,235.3 1406.6,234.9 1407.2,234.5 1407.8,234.0 1408.3,233.6 1408.9,233.2 1409.5,232.8 1410.1,232.4 1410.7,232.1 1411.2,231.7 1411.8,231.3 1412.4,230.9 1413.0,230.6 1413.7,230.2 1414.3,229.9 1414.9,229.6 1415.5,229.2 1416.1,228.9 1416.7,228.6 1417.4,228.3 1418.0,228.0 1418.6,227.7 1419.3,227.4 1419.9,227.2 1420.6,226.9 1421.2,226.7 1421.8,226.4 1422.5,226.2 1423.2,226.0 1423.8,225.8 1424.5,225.6 1425.1,225.4 1425.8,225.2 1426.5,225.0 1427.1,224.9 1427.8,224.7 1428.5,224.5 1429.1,224.4 1429.8,224.2 1430.5,224.1 1431.2,223.9 1431.9,223.8 1432.6,223.6 1433.2,223.5 1433.9,223.3 1434.6,223.2 1435.3,223.0 1436.0,222.8 1436.7,222.6 1437.4,222.5 1438.1,222.3 1438.8,222.1 1439.5,221.8 1440.3,221.6 1441.0,221.4 1441.7,221.2 1442.4,221.0 1443.1,220.8 1443.8,220.5 1444.5,220.3 1445.2,220.2 1445.9,220.0 1446.6,219.8 1447.3,219.7 1447.9,219.6 1448.6,219.5 1449.3,219.4 1449.9,219.3 1450.6,219.3 1451.2,219.3 1451.8,219.4 1452.5,219.4 1453.1,219.6 1453.7,219.7 1454.3,219.9 1454.8,220.1 1455.4,220.3 1456.0,220.6 1456.5,220.9 1457.1,221.3 1457.6,221.6 1458.1,222.0 1458.7,222.4 1459.2,222.8 1459.7,223.3 1460.1,223.8 1460.6,224.2 1461.1,224.8 1461.6,225.3 1462.0,225.8 1462.5,226.4 1462.9,226.9 1463.3,227.5 1463.8,228.1 1464.2,228.7 1464.6,229.3 1465.0,229.9 1465.4,230.6 1465.7,231.2 1466.1,231.8 1466.5,232.4 1466.8,233.1 1467.2,233.7 1467.5,234.3 1467.9,235.0 1468.2,235.6 1468.5,236.3 1468.9,236.9 1469.2,237.6 1469.5,238.2 1469.8,238.9 1470.1,239.5 1470.3,240.2 1470.6,240.8 1470.9,241.5 1471.2,242.1 1471.4,242.8 1471.7,243.4 1472.0,244.1 1472.2,244.7 1472.4,245.4 1472.7,246.1 1472.9,246.7 1473.2,247.4 1473.4,248.1 1473.6,248.7 1473.8,249.4 1474.0,250.1 1474.3,250.7 1474.5,251.4 1474.7,252.1 1474.9,252.8 1475.1,253.4 1475.3,254.1 1475.5,254.8 1475.6,255.4 1475.8,256.1 1476.0,256.8 1476.2,257.5 1476.4,258.2 1476.6,258.8 1476.7,259.5 1476.9,260.2 1477.1,260.9 1477.3,261.5 1477.4,262.2 1477.6,262.9 1477.8,263.6 1477.9,264.3 1478.1,264.9 1478.3,265.6 1478.4,266.3 1478.6,267.0 1478.8,267.7 1478.9,268.3 1479.1,269.0 1479.2,269.7 1479.4,270.4 1479.6,271.1 1479.7,271.7 1479.9,272.4 1480.1,273.1 1480.2,273.8 1480.4,274.5 1480.6,275.1 1480.8,275.8 1480.9,276.5 1481.1,277.2 1481.3,277.9 1481.4,278.5 1481.6,279.2 1481.8,279.9 1482.0,280.6 1482.1,281.2 1482.3,281.9 1482.5,282.6 1482.7,283.3 1482.9,283.9 1483.0,284.6 1483.2,285.3 1483.4,286.0 1483.6,286.7 1483.8,287.3 1483.9,288.0 1484.1,288.7 1484.3,289.4 1484.5,290.0 1484.7,290.7 1484.9,291.4 1485.0,292.1 1485.2,292.7 1485.4,293.4 1485.6,294.1 1485.8,294.7 1486.0,295.4 1486.2,296.1 1486.4,296.8 1486.6,297.4 1486.7,298.1 1486.9,298.8 1487.1,299.5 1487.3,300.1 1487.5,300.8 1487.7,301.5 1487.9,302.2 1488.1,302.8 1488.3,303.5 1488.5,304.2 1488.7,304.8 1488.9,305.5 1489.1,306.2 1489.3,306.9 1489.4,307.5 1489.6,308.2 1489.8,308.9 1490.0,309.5 1490.2,310.2 1490.4,310.9 1490.6,311.6 1490.8,312.2 1491.0,312.9 1491.2,313.6 1491.4,314.2 1491.6,314.9 1491.8,315.6 1492.0,316.3 1492.2,316.9 1492.4,317.6 1492.6,318.3 1492.8,318.9 1493.0,319.6 1493.2,320.3 1493.4,320.9 1493.6,321.6 1493.8,322.3 1494.0,323.0 1494.2,323.6 1494.4,324.3 1494.6,325.0 1494.8,325.6 1495.0,326.3 1495.2,327.0 1495.4,327.7 1495.6,328.3 1495.8,329.0 1496.0,329.7 1496.2,330.3 1496.4,331.0 1496.6,331.7 1496.8,332.4 1497.0,333.0 1497.2,333.7 1497.4,334.4 1497.6,335.0 1497.8,335.7 1498.0,336.4 1498.2,337.0 1498.4,337.7 1498.6,338.4 1498.8,339.1 1499.0,339.7 1499.2,340.4 1499.4,341.1 1499.6,341.7 1499.8,342.4 1500.0,343.1 1500.2,343.8 1500.4,344.4 1500.6,345.1 1500.8,345.8 1501.0,346.4 1501.2,347.1 1501.4,347.8 1501.6,348.5 1501.8,349.1 1502.0,349.8 1502.2,350.5 1502.3,351.2 1502.5,351.8 1502.7,352.5 1502.9,353.2 1503.1,353.8 1503.3,354.5 1503.5,355.2 1503.7,355.9 1503.9,356.5 1504.1,357.2 1504.3,357.9 1504.5,358.6 1504.7,359.2 1504.8,359.9 1505.0,360.6 1505.2,361.3 1505.4,361.9 1505.6,362.6 1506.3,362.6 1506.9,362.7 1507.6,362.7 1508.2,362.8 1508.9,362.8 1509.5,362.9 1510.2,362.9 1510.4,362.3 1510.7,361.6 1510.9,361.0 1511.1,360.3 1511.4,359.7 1511.6,359.0 1511.8,358.4 1512.1,357.7 1512.3,357.0 1512.5,356.4 1512.7,355.7 1512.9,355.1 1513.2,354.4 1513.4,353.8 1513.6,353.1 1513.8,352.4 1514.0,351.8 1514.2,351.1 1514.4,350.4 1514.6,349.8 1514.8,349.1 1515.0,348.4 1515.2,347.8 1515.4,347.1 1515.6,346.4 1515.8,345.8 1516.0,345.1 1516.2,344.4 1516.4,343.8 1516.6,343.1 1516.8,342.4 1517.0,341.7 1517.1,341.1 1517.3,340.4 1517.5,339.7 1517.7,339.0 1517.9,338.4 1518.0,337.7 1518.2,337.0 1518.4,336.3 1518.6,335.6 1518.7,335.0 1518.9,334.3 1519.1,333.6 1519.3,332.9 1519.4,332.2 1519.6,331.5 1519.8,330.9 1519.9,330.2 1520.1,329.5 1520.2,328.8 1520.4,328.1 1520.6,327.4 1520.7,326.7 1520.9,326.1 1521.0,325.4 1521.2,324.7 1521.4,324.0 1521.5,323.3 1521.7,322.6 1521.8,321.9 1522.0,321.2 1522.1,320.6 1522.3,319.9 1522.4,319.2 1522.6,318.5 1522.7,317.8 1522.8,317.1 1523.0,316.4 1523.1,315.7 1523.3,315.0 1523.4,314.3 1523.6,313.6 1523.7,312.9 1523.8,312.3 1524.0,311.6 1524.1,310.9 1524.3,310.2 1524.4,309.5 1524.5,308.8 1524.7,308.1 1524.8,307.4 1524.9,306.7 1525.1,306.0 1525.2,305.3 1525.3,304.6 1525.5,303.9 1525.6,303.2 1525.7,302.5 1525.9,301.8 1526.0,301.2 1526.1,300.5 1526.2,299.8 1526.4,299.1 1526.5,298.4 1526.6,297.7 1526.7,297.0 1526.9,296.3 1527.0,295.6 1527.1,294.9 1527.3,294.2 1527.4,293.5 1527.5,292.8 1527.6,292.1 1527.8,291.5 1527.9,290.8 1528.0,290.1 1528.1,289.4 1528.2,288.7 1528.4,288.0 1528.5,287.3 1528.6,286.6 1528.7,285.9 1528.9,285.2 1529.0,284.5 1529.1,283.9 1529.2,283.2 1529.3,282.5 1529.5,281.8 1529.6,281.1 1529.7,280.4 1529.8,279.7 1529.9,279.0 1530.1,278.4 1530.2,277.7 1530.3,277.0 1530.4,276.3 1530.6,275.6 1530.7,274.9 1530.8,274.3 1530.9,273.6 1531.0,272.9 1531.2,272.2 1531.3,271.5 1531.4,270.8 1531.5,270.2 1531.6,269.5 1531.8,268.8 1531.9,268.1 1532.0,267.4 1532.1,266.7 1532.2,266.1 1532.4,265.4 1532.5,264.7 1532.6,264.0 1532.7,263.3 1532.8,262.7 1532.9,262.0 1533.1,261.3 1533.2,260.6 1533.3,259.9 1533.4,259.3 1533.5,258.6 1533.7,257.9 1533.8,257.2 1533.9,256.5 1534.0,255.9 1534.1,255.2 1534.3,254.5 1534.4,253.8 1534.5,253.1 1534.6,252.5 1534.7,251.8 1534.8,251.1 1535.0,250.4 1535.1,249.7 1535.2,249.1 1535.3,248.4 1535.4,247.7 1535.6,247.0 1535.7,246.3 1535.8,245.7 1535.9,245.0 1536.0,244.3 1536.1,243.6 1536.3,242.9 1536.4,242.3 1536.5,241.6 1536.6,240.9 1536.7,240.2 1536.8,239.5 1537.0,238.9 1537.1,238.2 1537.2,237.5 1537.3,236.8 1537.4,236.1 1537.5,235.5 1537.6,234.8 1537.8,234.1 1537.9,233.4 1538.0,232.7 1538.1,232.0 1538.2,231.4 1538.3,230.7 1538.5,230.0 1538.6,229.3 1538.7,228.6 1538.8,227.9 1538.9,227.2 1539.0,226.6 1539.1,225.9 1539.3,225.2 1539.4,224.5 1539.5,223.8 1539.6,223.1 1539.7,222.4 1539.8,221.7 1539.9,221.1 1540.1,220.4 1540.2,219.7 1540.3,219.0 1540.4,218.3 1540.5,217.6 1540.6,216.9 1540.7,216.2 1540.9,215.5 1541.0,214.8 1541.1,214.1 1541.2,213.4 1541.3,212.7 1541.4,212.0 1541.5,211.3 1541.6,210.6 1541.8,210.0 1541.9,209.3 1542.0,208.6 1542.1,207.9 1542.2,207.2 1542.3,206.5 1542.4,205.8 1542.5,205.0 1542.7,204.3 1542.8,203.6 1542.9,202.9 1543.0,202.2 1543.1,201.5 1543.2,200.8 1543.3,200.1 1543.4,199.4 1543.5,198.7 1543.7,198.0 1543.8,197.3 1543.9,196.6 1544.0,195.9 1544.1,195.1 1544.2,194.4 1544.3,193.7 1544.4,193.0 1544.5,192.3 1544.7,191.6 1544.8,190.9 1544.9,190.1 1545.0,189.4 1545.1,188.7 1545.2,188.0 1545.3,187.3 1545.4,186.5 1545.5,185.8 1545.6,185.1 1545.7,184.4 1545.9,183.6 1546.0,182.9 1546.1,182.2 1546.2,181.5 1546.3,180.7 1546.4,180.0 1546.6,179.3 1546.7,178.6 1546.8,177.9 1546.9,177.1 1547.1,176.4 1547.2,175.7 1547.3,175.0 1547.5,174.3 1547.6,173.6 1547.8,172.9 1547.9,172.2 1548.1,171.5 1548.2,170.8 1548.4,170.1 1548.6,169.4 1548.7,168.7 1548.9,168.0 1549.1,167.3 1549.3,166.7 1549.5,166.0 1549.7,165.3 1549.9,164.7 1550.2,164.0 1550.4,163.3 1550.6,162.7 1550.9,162.1 1551.1,161.4 1551.4,160.8 1551.6,160.2 1551.9,159.5 1552.2,158.9 1552.5,158.3 1552.8,157.7 1553.1,157.1 1553.4,156.5 1553.7,156.0 1554.1,155.4 1554.4,154.8 1554.8,154.3 1555.2,153.7 1555.6,153.2 1555.9,152.6 1556.3,152.1 1556.8,151.6 1557.2,151.1 1557.6,150.6 1558.1,150.1 1558.5,149.7 1559.0,149.4 1559.5,149.1 1560.0,148.9 1560.5,148.9 1561.0,148.9 1561.5,149.1 1561.9,149.3 1562.4,149.6 1562.9,150.0 1563.4,150.4 1563.9,150.9 1564.3,151.4 1564.8,152.0 1565.2,152.6 1565.6,153.2 1565.9,153.8 1566.3,154.4 1566.7,155.0 1567.0,155.7 1567.3,156.4 1567.6,157.1 1567.9,157.8 1568.2,158.5 1568.5,159.2 1568.7,159.9 1568.9,160.7 1569.2,161.4 1569.4,162.2 1569.6,162.9 1569.8,163.7 1570.0,164.5 1570.2,165.2 1570.4,166.0 1570.6,166.8 1570.7,167.5 1570.9,168.3 1571.1,169.0 1571.2,169.8 1571.4,170.5 1571.6,171.3 1571.7,172.0 1571.9,172.8 1572.0,173.5 1572.2,174.2 1572.3,175.0 1572.4,175.7 1572.6,176.4 1572.7,177.2 1572.8,177.9 1573.0,178.6 1573.1,179.3 1573.2,180.0 1573.3,180.7 1573.4,181.4 1573.6,182.1 1573.7,182.8 1573.8,183.5 1573.9,184.2 1574.0,184.9 1574.1,185.6 1574.2,186.3 1574.3,187.0 1574.4,187.7 1574.5,188.4 1574.6,189.1 1574.8,189.8 1574.9,190.5 1575.0,191.2 1575.1,191.8 1575.1,192.5 1575.2,193.2 1575.3,193.9 1575.4,194.6 1575.5,195.3 1575.6,196.0 1575.7,196.6 1575.8,197.3 1575.9,198.0 1576.0,198.7 1576.1,199.4 1576.2,200.1 1576.3,200.7 1576.4,201.4 1576.5,202.1 1576.6,202.8 1576.7,203.5 1576.8,204.2 1576.9,204.9 1577.0,205.6 1577.1,206.2 1577.1,206.9 1577.2,207.6 1577.3,208.3 1577.4,209.0 1577.5,209.7 1577.6,210.4 1577.7,211.0 1577.8,211.7 1577.9,212.4 1578.0,213.1 1578.1,213.8 1578.2,214.5 1578.2,215.2 1578.3,215.9 1578.4,216.5 1578.5,217.2 1578.6,217.9 1578.7,218.6 1578.8,219.3 1578.9,220.0 1579.0,220.7 1579.1,221.4 1579.1,222.0 1579.2,222.7 1579.3,223.4 1579.4,224.1 1579.5,224.8 1579.6,225.5 1579.7,226.2 1579.8,226.9 1579.9,227.6 1579.9,228.2 1580.0,228.9 1580.1,229.6 1580.2,230.3 1580.3,231.0 1580.4,231.7 1580.5,232.4 1580.5,233.1 1580.6,233.8 1580.7,234.5 1580.8,235.1 1580.9,235.8 1581.0,236.5 1581.1,237.2 1581.1,237.9 1581.2,238.6 1581.3,239.3 1581.4,240.0 1581.5,240.7 1581.6,241.4 1581.7,242.0 1581.7,242.7 1581.8,243.4 1581.9,244.1 1582.0,244.8 1582.1,245.5 1582.2,246.2 1582.2,246.9 1582.3,247.6 1582.4,248.3 1582.5,249.0 1582.6,249.6 1582.6,250.3 1582.7,251.0 1582.8,251.7 1582.9,252.4 1583.0,253.1 1583.1,253.8 1583.1,254.5 1583.2,255.2 1583.3,255.9 1583.4,256.6 1583.5,257.3 1583.5,257.9 1583.6,258.6 1583.7,259.3 1583.8,260.0 1583.9,260.7 1583.9,261.4 1584.0,262.1 1584.1,262.8 1584.2,263.5 1584.3,264.2 1584.3,264.9 1584.4,265.6 1584.5,266.3 1584.6,266.9 1584.7,267.6 1584.7,268.3 1584.8,269.0 1584.9,269.7 1585.0,270.4 1585.0,271.1 1585.1,271.8 1585.2,272.5 1585.3,273.2 1585.4,273.9 1585.4,274.6 1585.5,275.3 1585.6,276.0 1585.7,276.6 1585.7,277.3 1585.8,278.0 1585.9,278.7 1586.0,279.4 1586.0,280.1 1586.1,280.8 1586.2,281.5 1586.3,282.2 1586.3,282.9 1586.4,283.6 1586.5,284.3 1586.6,285.0 1586.6,285.7 1586.7,286.4 1586.8,287.1 1586.9,287.8 1586.9,288.4 1587.0,289.1 1587.1,289.8 1587.2,290.5 1587.2,291.2 1587.3,291.9 1587.4,292.6 1587.5,293.3 1587.5,294.0 1587.6,294.7 1587.7,295.4 1587.8,296.1 1587.8,296.8 1587.9,297.5 1588.0,298.2 1588.0,298.9 1588.1,299.6 1588.2,300.3 1588.3,301.0 1588.3,301.7 1588.4,302.3 1588.5,303.0 1588.6,303.7 1588.6,304.4 1588.7,305.1 1588.8,305.8 1588.8,306.5 1588.9,307.2 1589.0,307.9 1589.1,308.6 1589.1,309.3 1589.2,310.0 1589.3,310.7 1589.3,311.4 1589.4,312.1 1589.5,312.8 1589.5,313.5 1589.6,314.2 1589.7,314.9 1589.8,315.6 1589.8,316.3 1589.9,317.0 1590.0,317.7 1590.0,318.4 1590.1,319.1 1590.2,319.7 1590.2,320.4 1590.3,321.1 1590.4,321.8 1590.5,322.5 1590.5,323.2 1590.6,323.9 1590.7,324.6 1590.7,325.3 1590.8,326.0 1590.9,326.7 1590.9,327.4 1591.0,328.1 1591.1,328.8 1591.1,329.5 1591.2,330.2 1591.3,330.9 1591.3,331.6 1591.4,332.3 1591.5,333.0 1591.5,333.7 1591.6,334.4 1591.7,335.1 1591.8,335.8 1591.8,336.5 1591.9,337.2 1592.0,337.9 1592.0,338.6 1592.1,339.3 1592.2,340.0 1592.2,340.7 1592.3,341.4 1592.4,342.1 1592.4,342.7 1592.5,343.4 1592.6,344.1 1592.6,344.8 1592.7,345.5 1592.8,346.2 1592.8,346.9 1592.9,347.6 1593.0,348.3 1593.0,349.0 1593.1,349.7 1593.2,350.4 1593.2,351.1 1593.3,351.8 1593.3,352.5 1593.4,353.2 1593.5,353.9 1593.5,354.6 1593.6,355.3 1593.7,356.0 1593.7,356.7 1593.8,357.4 1593.9,358.1 1593.9,358.8 1594.0,359.5 1594.1,360.2 1594.1,360.9 1594.2,361.6 1594.3,362.3 1594.3,363.0 1594.4,363.7 1594.5,364.4 1594.5,365.1 1594.6,365.8 1594.6,366.5 1594.7,367.2 1594.8,367.9 1594.8,368.6 1594.9,369.3 1595.0,370.0 1595.0,370.7 1595.1,371.4 1595.2,372.1 1595.2,372.8 1595.3,373.5 1595.4,374.2 1595.4,374.9 1595.5,375.6 1595.5,376.3 1595.6,377.0 1595.7,377.7 1595.7,378.4 1595.8,379.0 1595.9,379.7 1595.9,380.4 1596.0,381.1 1596.0,381.8 1596.1,382.5 1596.2,383.2 1596.2,383.9 1596.3,384.6 1596.4,385.3 1596.4,386.0 1596.5,386.7 1596.6,387.4 1596.6,388.1 1596.7,388.8 1596.7,389.5 1596.8,390.2 1596.9,390.9 1596.9,391.6 1597.0,392.3 1597.1,393.0 1597.1,393.7 1597.2,394.4 1597.2,395.1 1597.3,395.8 1597.4,396.5 1597.4,397.2 1597.5,397.9 1597.6,398.6 1597.6,399.3 1597.7,400.0 1597.7,400.7 1597.8,401.4 1597.9,402.1 1597.9,402.8 1598.0,403.5 1598.1,404.2 1598.1,404.9 1598.2,405.6 1598.2,406.3 1598.3,407.0 1598.4,407.7 1598.4,408.4 1598.5,409.1 1598.5,409.8 1598.6,410.5 1598.7,411.2 1598.7,411.9 1598.8,412.6 1598.9,413.3 1598.9,414.0 1599.0,414.7 1599.0,415.4 1599.1,416.1 1599.2,416.8 1599.2,417.5 1599.3,418.2 1599.4,418.9 1599.4,419.6 1599.5,420.3 1599.5,421.0 1599.6,421.7 1599.7,422.4 1599.7,423.1 1599.8,423.8 1599.8,424.5 1599.9,425.2 1600.0,425.9 1600.0,426.6 1600.1,427.3 1600.2,428.0 1600.2,428.7 1600.3,429.4 1600.3,430.1 1600.4,430.8 1600.5,431.4 1600.5,432.1 1600.6,432.8 1600.6,433.5 1600.7,434.2 1600.8,434.9 1600.8,435.6 1600.9,436.3 1601.0,437.0 1601.0,437.7 1601.1,438.4 1601.1,439.1 1601.2,439.8 1601.3,440.5 1601.3,441.2 1601.4,441.9 1601.4,442.6 1601.5,443.3 1601.6,444.0 1601.6,444.7 1601.7,445.4 1601.8,446.1 1601.8,446.8 1601.9,447.5 1601.9,448.2 1602.0,448.9 1602.1,449.6 1602.1,450.3 1602.2,451.0 1602.2,451.7 1602.3,452.4 1602.4,453.1 1602.4,453.8 1602.5,454.5 1602.6,455.2 1602.6,455.9 1602.7,456.6 1602.7,457.3 1602.8,458.0 1602.9,458.7 1602.9,459.4 1603.0,460.1 1603.1,460.8 1603.1,461.5 1603.2,462.2 1603.3,462.9 1603.3,463.6 1603.4,464.3 1603.5,465.0 1603.5,465.7 1603.6,466.3 1603.6,467.0 1603.7,467.7 1603.8,468.4 1603.8,469.1 1603.9,469.8 1604.0,470.5 1604.1,471.2 1604.1,471.9 1604.2,472.6 1604.3,473.3 1604.3,474.0 1604.4,474.7 1604.5,475.4 1604.5,476.1 1604.6,476.8 1604.7,477.5 1604.8,478.2 1604.8,478.9 1604.9,479.6 1605.0,480.3 1605.1,481.0 1605.1,481.7 1605.2,482.4 1605.3,483.1 1605.4,483.7 1605.4,484.4 1605.5,485.1 1605.6,485.8 1605.7,486.5 1605.7,487.2 1605.8,487.9 1605.9,488.6 1606.0,489.3 1606.1,490.0 1606.1,490.7 1606.2,491.4 1606.3,492.1 1606.4,492.8 1606.5,493.5 1606.6,494.2 1606.7,494.8 1606.7,495.5 1606.8,496.2 1606.9,496.9 1607.0,497.6 1607.1,498.3 1607.2,499.0 1607.3,499.7 1607.4,500.4 1607.5,501.1 1607.5,501.8 1607.6,502.5 1607.7,503.2 1607.8,503.8 1607.9,504.5 1608.0,505.2 1608.1,505.9 1608.2,506.6 1608.3,507.3 1608.4,508.0 1608.5,508.7 1608.6,509.4 1608.7,510.1 1608.8,510.7 1608.9,511.4 1609.0,512.1 1609.1,512.8 1609.3,513.5 1609.4,514.2 1609.5,514.9 1609.6,515.6 1609.7,516.3 1609.8,516.9 1609.9,517.6 1610.0,518.3 1610.2,519.0 1610.3,519.7 1610.4,520.4 1610.5,521.1 1610.6,521.8 1610.7,522.4 1610.9,523.1 1611.0,523.8 1611.1,524.5 1611.2,525.2 1611.4,525.9 1611.5,526.5 1611.6,527.2 1611.7,527.9 1611.9,528.6 1612.0,529.3 1612.1,530.0 1612.3,530.7 1612.4,531.3 1612.5,532.0 1612.7,532.7 1612.8,533.4 1613.0,534.1 1613.1,534.8 1613.2,535.4 1613.4,536.1 1613.5,536.8 1613.7,537.5 1613.8,538.2 1614.0,538.8 1614.1,539.5 1614.3,540.2 1614.4,540.9 1614.6,541.6 1614.7,542.2 1614.9,542.9 1615.0,543.6 1615.2,544.3 1615.4,545.0 1615.5,545.6 1615.7,546.3 1615.9,547.0 1616.0,547.7 1616.2,548.3 1616.4,549.0 1616.5,549.7 1616.7,550.4 1616.9,551.1 1617.1,551.7 1617.2,552.4 1617.4,553.1 1617.6,553.8 1617.8,554.4 1617.9,555.1 1618.1,555.8 1618.3,556.5 1618.5,557.1 1618.7,557.8 1618.9,558.5 1619.1,559.1 1619.3,559.8 1619.5,560.5 1619.7,561.2 1619.9,561.8 1620.1,562.5 1620.3,563.2 1620.5,563.8 1620.7,564.5 1620.9,565.2 1621.1,565.9 1621.3,566.5 1621.5,567.2 1621.7,567.9 1621.9,568.5 1622.1,569.2 1622.3,569.9 1622.6,570.5 1622.8,571.2 1623.1,570.6 1623.5,570.0 1623.8,569.3 1624.1,568.7 1624.4,568.1 1624.7,567.5 1625.0,566.8 1625.3,566.2 1625.6,565.6 1625.8,564.9 1626.1,564.3 1626.4,563.7 1626.7,563.0 1626.9,562.4 1627.2,561.7 1627.4,561.1 1627.7,560.4 1627.9,559.8 1628.1,559.1 1628.3,558.5 1628.6,557.8 1628.8,557.2 1629.0,556.5 1629.2,555.8 1629.4,555.2 1629.6,554.5 1629.8,553.8 1630.0,553.2 1630.2,552.5 1630.4,551.8 1630.6,551.1 1630.7,550.5 1630.9,549.8 1631.1,549.1 1631.2,548.4 1631.4,547.8 1631.6,547.1 1631.7,546.4 1631.9,545.7 1632.0,545.0 1632.2,544.4 1632.3,543.7 1632.4,543.0 1632.6,542.3 1632.7,541.6 1632.8,540.9 1633.0,540.2 1633.1,539.5 1633.2,538.8 1633.3,538.1 1633.4,537.5 1633.6,536.8 1633.7,536.1 1633.8,535.4 1633.9,534.7 1634.0,534.0 1634.1,533.3 1634.2,532.6 1634.3,531.9 1634.4,531.2 1634.5,530.5 1634.6,529.8 1634.7,529.1 1634.8,528.4 1634.9,527.7 1635.0,527.0 1635.1,526.3 1635.1,525.6 1635.2,524.9 1635.3,524.2 1635.4,523.5 1635.5,522.8 1635.6,522.1 1635.7,521.4 1635.7,520.7 1635.8,520.0 1635.9,519.3 1636.0,518.6 1636.1,517.9 1636.2,517.2 1636.2,516.5 1636.3,515.8 1636.4,515.1 1636.5,514.4 1636.5,513.7 1636.6,513.0 1636.7,512.3 1636.8,511.6 1636.8,510.9 1636.9,510.2 1637.0,509.5 1637.1,508.8 1637.1,508.1 1637.2,507.4 1637.3,506.7 1637.4,506.0 1637.4,505.3 1637.5,504.6 1637.6,503.9 1637.6,503.2 1637.7,502.5 1637.8,501.8 1637.8,501.1 1637.9,500.4 1638.0,499.7 1638.1,499.0 1638.1,498.3 1638.2,497.6 1638.3,497.0 1638.3,496.3 1638.4,495.6 1638.4,494.9 1638.5,494.2 1638.6,493.5 1638.6,492.8 1638.7,492.1 1638.8,491.4 1638.8,490.7 1638.9,490.0 1638.9,489.3 1639.0,488.6 1639.1,487.9 1639.1,487.2 1639.2,486.5 1639.2,485.8 1639.3,485.1 1639.4,484.4 1639.4,483.7 1639.5,483.0 1639.5,482.3 1639.6,481.6 1639.7,480.9 1639.7,480.2 1639.8,479.5 1639.8,478.9 1639.9,478.2 1639.9,477.5 1640.0,476.8 1640.0,476.1 1640.1,475.4 1640.1,474.7 1640.2,474.0 1640.3,473.3 1640.3,472.6 1640.4,471.9 1640.4,471.2 1640.5,470.5 1640.5,469.8 1640.6,469.1 1640.6,468.4 1640.7,467.7 1640.7,467.0 1640.8,466.3 1640.8,465.6 1640.9,464.9 1640.9,464.3 1641.0,463.6 1641.0,462.9 1641.1,462.2 1641.1,461.5 1641.2,460.8 1641.2,460.1 1641.3,459.4 1641.3,458.7 1641.4,458.0 1641.4,457.3 1641.5,456.6 1641.5,455.9 1641.6,455.2 1641.6,454.5 1641.7,453.8 1641.7,453.1 1641.8,452.4 1641.8,451.7 1641.8,451.0 1641.9,450.4 1641.9,449.7 1642.0,449.0 1642.0,448.3 1642.1,447.6 1642.1,446.9 1642.2,446.2 1642.2,445.5 1642.3,444.8 1642.3,444.1 1642.4,443.4 1642.4,442.7 1642.4,442.0 1642.5,441.3 1642.5,440.6 1642.6,439.9 1642.6,439.2 1642.7,438.5 1642.7,437.8 1642.8,437.1 1642.8,436.4 1642.9,435.8 1642.9,435.1 1642.9,434.4 1643.0,433.7 1643.0,433.0 1643.1,432.3 1643.1,431.6 1643.2,430.9 1643.2,430.2 1643.3,429.5 1643.3,428.8 1643.3,428.1 1643.4,427.4 1643.4,426.7 1643.5,426.0 1643.5,425.3 1643.6,424.6 1643.6,423.9 1643.7,423.2 1643.7,422.5 1643.8,421.8 1643.8,421.1 1643.8,420.4 1643.9,419.7 1643.9,419.0 1644.0,418.4 1644.0,417.7 1644.1,417.0 1644.1,416.3 1644.2,415.6 1644.2,414.9 1644.3,414.2 1644.3,413.5 1644.3,412.8 1644.4,412.1 1644.4,411.4 1644.5,410.7 1644.5,410.0 1644.6,409.3 1644.6,408.6 1644.7,407.9 1644.7,407.2 1644.8,406.5 1644.8,405.8 1644.9,405.1 1644.9,404.4 1645.0,403.7 1645.0,403.0 1645.1,402.3 1645.1,401.6 1645.2,400.9 1645.2,400.2 1645.2,399.5 1645.3,398.8 1645.3,398.1 1645.4,397.4 1645.4,396.7 1645.5,396.0 1645.5,395.3 1645.6,394.6 1645.6,393.9 1645.7,393.2 1645.7,392.5 1645.8,391.8 1645.8,391.1 1645.9,390.4 1645.9,389.7 1646.0,389.0 1646.0,388.3 1646.1,387.6 1646.1,386.9 1646.2,386.2 1646.2,385.5 1646.3,384.8 1646.3,384.1 1646.4,383.4 1646.4,382.7 1646.5,382.0 1646.6,381.3 1646.6,380.6 1646.7,379.9 1646.7,379.2 1646.8,378.5 1646.8,377.8 1646.9,377.1 1646.9,376.4 1647.0,375.7 1647.0,375.0 1647.1,374.3 1647.1,373.6 1647.2,372.9 1647.2,372.2 1647.3,371.5 1647.3,370.8 1647.4,370.1 1647.4,369.4 1647.5,368.7 1647.6,368.0 1647.6,367.3 1647.7,366.6 1647.7,365.9 1647.8,365.2 1647.8,364.5 1647.9,363.8 1647.9,363.1 1648.0,362.4 1648.0,361.7 1648.1,361.0 1648.2,360.3 1648.2,359.6 1648.3,358.9 1648.3,358.2 1648.4,357.5 1648.4,356.8 1648.5,356.1 1648.5,355.4 1648.6,354.7 1648.7,354.0 1648.7,353.3 1648.8,352.6 1648.8,351.9 1648.9,351.2 1648.9,350.5 1649.0,349.8 1649.0,349.1 1649.1,348.4 1649.2,347.7 1649.2,347.0 1649.3,346.3 1649.3,345.6 1649.4,344.9 1649.4,344.2 1649.5,343.5 1649.6,342.8 1649.6,342.1 1649.7,341.4 1649.7,340.7 1649.8,340.0 1649.8,339.3 1649.9,338.6 1650.0,337.9 1650.0,337.2 1650.1,336.5 1650.1,335.8 1650.2,335.1 1650.3,334.4 1650.3,333.7 1650.4,333.0 1650.4,332.3 1650.5,331.6 1650.5,330.9 1650.6,330.2 1650.7,329.5 1650.7,328.8 1650.8,328.1 1650.8,327.4 1650.9,326.7 1651.0,326.0 1651.0,325.3 1651.1,324.6 1651.1,323.9 1651.2,323.2 1651.3,322.5 1651.3,321.8 1651.4,321.1 1651.4,320.4 1651.5,319.7 1651.6,319.0 1651.6,318.3 1651.7,317.6 1651.7,316.9 1651.8,316.2 1651.9,315.5 1651.9,314.8 1652.0,314.1 1652.1,313.4 1652.1,312.7 1652.2,312.0 1652.2,311.3 1652.3,310.6 1652.4,309.9 1652.4,309.2 1652.5,308.5 1652.5,307.8 1652.6,307.1 1652.7,306.4 1652.7,305.7 1652.8,305.0 1652.9,304.3 1652.9,303.6 1653.0,302.9 1653.0,302.2 1653.1,301.5 1653.2,300.8 1653.2,300.1 1653.3,299.4 1653.4,298.7 1653.4,298.0 1653.5,297.3 1653.6,296.6 1653.6,295.9 1653.7,295.3 1653.7,294.6 1653.8,293.9 1653.9,293.2 1653.9,292.5 1654.0,291.8 1654.1,291.1 1654.1,290.4 1654.2,289.7 1654.3,289.0 1654.3,288.3 1654.4,287.6 1654.4,286.9 1654.5,286.2 1654.6,285.5 1654.6,284.8 1654.7,284.1 1654.8,283.4 1654.8,282.7 1654.9,282.0 1655.0,281.3 1655.0,280.6 1655.1,279.9 1655.2,279.2 1655.2,278.5 1655.3,277.8 1655.4,277.1 1655.4,276.4 1655.5,275.7 1655.5,275.0 1655.6,274.3 1655.7,273.7 1655.7,273.0 1655.8,272.3 1655.9,271.6 1655.9,270.9 1656.0,270.2 1656.1,269.5 1656.1,268.8 1656.2,268.1 1656.3,267.4 1656.3,266.7 1656.4,266.0 1656.5,265.3 1656.5,264.6 1656.6,263.9 1656.7,263.2 1656.7,262.5 1656.8,261.8 1656.9,261.2 1656.9,260.5 1657.0,259.8 1657.1,259.1 1657.1,258.4 1657.2,257.7 1657.3,257.0 1657.3,256.3 1657.4,255.6 1657.5,254.9 1657.5,254.2 1657.6,253.5 1657.7,252.8 1657.7,252.1 1657.8,251.5 1657.9,250.8 1658.0,250.1 1658.0,249.4 1658.1,248.7 1658.2,248.0 1658.2,247.3 1658.3,246.6 1658.4,245.9 1658.4,245.2 1658.5,244.5 1658.6,243.9 1658.6,243.2 1658.7,242.5 1658.8,241.8 1658.8,241.1 1658.9,240.4 1659.0,239.7 1659.0,239.0 1659.1,238.3 1659.2,237.6 1659.3,237.0 1659.3,236.3 1659.4,235.6 1659.5,234.9 1659.5,234.2 1659.6,233.5 1659.7,232.8 1659.7,232.1 1659.8,231.4 1659.9,230.8 1659.9,230.1 1660.0,229.4 1660.1,228.7 1660.2,228.0 1660.2,227.3 1660.3,226.6 1660.4,225.9 1660.4,225.3 1660.5,224.6 1660.6,223.9 1660.6,223.2 1660.7,222.5 1660.8,221.8 1660.8,221.1 1660.9,220.5 1661.0,219.8 1661.1,219.1 1661.1,218.4 1661.2,217.7 1661.3,217.0 1661.3,216.4 1661.4,215.7 1661.5,215.0 1661.6,214.3 1661.6,213.6 1661.7,212.9 1661.8,212.2 1661.8,211.6 1661.9,210.9 1662.0,210.2 1662.0,209.5 1662.1,208.8 1662.2,208.1 1662.3,207.5 1662.3,206.8 1662.4,206.1 1662.5,205.4 1662.6,204.7 1662.6,204.0 1662.7,203.4 1662.8,202.7 1662.8,202.0 1662.9,201.3 1663.0,200.6 1663.1,199.9 1663.1,199.2 1663.2,198.6 1663.3,197.9 1663.4,197.2 1663.5,196.5 1663.5,195.8 1663.6,195.1 1663.7,194.4 1663.8,193.7 1663.9,193.0 1663.9,192.3 1664.0,191.7 1664.1,191.0 1664.2,190.3 1664.3,189.6 1664.3,188.9 1664.4,188.2 1664.5,187.5 1664.6,186.8 1664.7,186.1 1664.8,185.4 1664.9,184.7 1665.0,184.0 1665.0,183.3 1665.1,182.6 1665.2,181.9 1665.3,181.2 1665.4,180.5 1665.5,179.8 1665.6,179.1 1665.7,178.3 1665.8,177.6 1665.9,176.9 1666.0,176.2 1666.1,175.5 1666.2,174.8 1666.3,174.1 1666.4,173.4 1666.5,172.6 1666.6,171.9 1666.7,171.2 1666.8,170.5 1666.9,169.7 1667.0,169.0 1667.1,168.3 1667.2,167.6 1667.4,166.8 1667.5,166.1 1667.6,165.4 1667.7,164.6 1667.8,163.9 1667.9,163.2 1668.1,162.4 1668.2,161.7 1668.3,161.0 1668.4,160.2 1668.5,159.5 1668.7,158.7 1668.8,158.0 1668.9,157.2 1669.0,156.5 1669.2,155.7 1669.3,155.0 1669.4,154.2 1669.6,153.4 1669.7,152.7 1669.9,151.9 1670.0,151.2 1670.1,150.4 1670.3,149.6 1670.4,148.9 1670.6,148.1 1670.7,147.3 1670.9,146.6 1671.1,145.8 1671.3,145.1 1671.4,144.4 1671.6,143.6 1671.8,142.9 1672.1,142.2 1672.3,141.5 1672.5,140.8 1672.8,140.1 1673.0,139.5 1673.3,138.8 1673.6,138.2 1673.9,137.6 1674.2,137.0 1674.6,136.4 1674.9,135.9 1675.3,135.3 1675.7,134.8 1676.1,134.3 1676.5,133.8 1677.0,133.4 1677.4,133.0 1677.9,132.6 1678.4,132.3 1678.9,132.1 1679.4,131.9 1679.9,131.7 1680.3,131.7 1680.8,131.7 1681.3,131.9 1681.8,132.1 1682.3,132.3 1682.7,132.7 1683.2,133.1 1683.6,133.5 1684.0,134.0 1684.5,134.5 1684.9,135.1 1685.2,135.7 1685.6,136.3 1686.0,136.9 1686.3,137.5 1686.7,138.2 1687.0,138.8 1687.3,139.5 1687.6,140.2 1687.8,140.9 1688.1,141.6 1688.4,142.3 1688.6,143.0 1688.8,143.7 1689.1,144.5 1689.3,145.2 1689.5,145.9 1689.7,146.7 1689.9,147.4 1690.1,148.2 1690.3,148.9 1690.5,149.7 1690.7,150.4 1690.9,151.2 1691.0,151.9 1691.2,152.7 1691.4,153.4 1691.6,154.1 1691.7,154.9 1691.9,155.6 1692.1,156.4 1692.2,157.1 1692.4,157.8 1692.6,158.5 1692.7,159.3 1692.9,160.0 1693.1,160.7 1693.2,161.4 1693.4,162.1 1693.6,162.8 1693.7,163.5 1693.9,164.2 1694.0,165.0 1694.2,165.7 1694.4,166.4 1694.5,167.1 1694.7,167.7 1694.8,168.4 1695.0,169.1 1695.2,169.8 1695.3,170.5 1695.5,171.2 1695.6,171.9 1695.8,172.6 1695.9,173.3 1696.1,173.9 1696.2,174.6 1696.4,175.3 1696.5,176.0 1696.7,176.6 1696.8,177.3 1697.0,178.0 1697.2,178.7 1697.3,179.3 1697.5,180.0 1697.6,180.7 1697.8,181.3 1697.9,182.0 1698.1,182.7 1698.2,183.3 1698.4,184.0 1698.5,184.7 1698.7,185.3 1698.8,186.0 1699.0,186.7 1699.1,187.3 1699.3,188.0 1699.4,188.6 1699.6,189.3 1699.7,190.0 1699.9,190.6 1700.0,191.3 1700.2,191.9 1700.3,192.6 1700.5,193.3 1700.6,193.9 1700.8,194.6 1700.9,195.2 1701.1,195.9 1701.2,196.6 1701.4,197.2 1701.6,197.9 1701.7,198.6 1701.9,199.2 1702.0,199.9 1702.2,200.5 1702.3,201.2 1702.5,201.9 1702.7,202.5 1702.8,203.2 1703.0,203.9 1703.1,204.5 1703.3,205.2 1703.5,205.9 1703.6,206.5 1703.8,207.2 1704.0,207.9 1704.1,208.5 1704.3,209.2 1704.4,209.9 1704.6,210.6 1704.8,211.3 1705.0,211.9 1705.1,212.6 1705.3,213.3 1705.5,214.0 1705.6,214.7 1705.8,215.3 1706.0,216.0 1706.2,216.7 1706.3,217.4 1706.5,218.1 1706.7,218.8 1706.9,219.5 1707.1,220.2 1707.3,220.9 1707.4,221.6 1707.6,222.3 1707.8,223.0 1708.0,223.7 1708.2,224.4 1708.4,225.2 1708.6,225.9 1708.8,226.6 1709.0,227.3 1709.2,228.0 1709.4,228.7 1709.6,229.4 1709.8,230.1 1710.1,230.8 1710.3,231.5 1710.5,232.2 1710.8,232.9 1711.0,233.5 1711.3,234.2 1711.5,234.9 1711.8,235.5 1712.1,236.2 1712.4,236.8 1712.6,237.5 1712.9,238.1 1713.2,238.7 1713.6,239.3 1713.9,240.0 1714.2,240.5 1714.6,241.1 1714.9,241.7 1715.3,242.3 1715.6,242.8 1716.0,243.3 1716.4,243.9 1716.8,244.4 1717.3,244.9 1717.7,245.4 1718.1,245.8 1718.6,246.3 1719.0,246.7 1719.5,247.1 1720.0,247.5 1720.5,247.9 1721.1,248.3 1721.6,248.7 1722.1,249.0 1722.7,249.4 1723.2,249.7 1723.8,250.0 1724.4,250.3 1725.0,250.6 1725.6,250.9 1726.2,251.2 1726.8,251.5 1727.4,251.8 1728.0,252.1 1728.6,252.4 1729.2,252.6 1729.9,252.9 1730.5,253.2 1731.1,253.5 1731.8,253.8 1732.4,254.1 1733.0,254.3 1733.7,254.6 1734.3,254.9 1734.9,255.3 1735.5,255.6 1736.2,255.9 1736.8,256.2 1737.4,256.6 1738.0,257.0 1738.6,257.3 1739.2,257.7 1739.8,258.1 1740.4,258.5 1741.0,259.0 1741.5,259.4 1742.1,259.9 1742.6,260.4 1743.2,260.9 1743.7,261.4 1744.2,262.0 1744.7,262.5 1745.2,263.1 1745.7,263.7 1746.2,264.3 1746.7,265.0 1747.2,265.6 1747.6,266.2 1748.1,266.9 1748.5,267.5 1749.0,268.2 1749.5,268.8 1749.9,269.5 1750.4,270.1 1750.8,270.7 1751.3,271.3 1751.7,271.9 1752.2,272.5 1752.6,273.1 1753.1,273.7 1753.5,274.2 1754.0,274.7 1754.5,275.2 1755.0,275.7 1755.5,276.1 1756.0,276.5 1756.5,276.9 1757.0,277.2 1757.5,277.5 1758.1,277.8 1758.6,278.0 1759.2,278.2 1759.8,278.4 1760.4,278.5 1761.0,278.5 1761.6,278.5 1762.2,278.4 1762.9,278.3 1763.5,278.2 1764.2,278.0 1764.8,277.8 1765.4,277.5 1766.0,277.1 1766.6,276.8 1767.1,276.4 1767.6,275.9 1768.1,275.4 1768.6,274.9 1769.0,274.4 1769.4,273.8 1769.7,273.2 1770.1,272.6 1770.4,272.0 1770.7,271.3 1771.0,270.6 1771.2,269.9 1771.5,269.2 1771.7,268.4 1771.9,267.7 1772.1,266.9 1772.3,266.1 1772.5,265.4 1772.7,264.6 1772.8,263.8 1773.0,263.0 1773.1,262.2 1773.3,261.4 1773.4,260.6 1773.6,259.8 1773.7,259.1 1773.9,258.3 1774.1,257.5 1774.2,256.8 1774.4,256.0 1774.6,255.3 1774.8,254.6 1775.0,253.9 1775.1,253.2 1775.3,252.5 1775.5,251.9 1775.7,251.2 1776.0,250.5 1776.2,249.9 1776.4,249.2 1776.6,248.6 1776.8,248.0 1777.0,247.3 1777.2,246.7 1777.5,246.1 1777.7,245.4 1777.9,244.8 1778.1,244.2 1778.3,243.6 1778.6,243.0 1778.8,242.4 1779.0,241.7 1779.2,241.1 1779.4,240.5 1779.6,239.9 1779.9,239.2 1780.1,238.6 1780.3,238.0 1780.5,237.3 1780.7,236.7 1780.9,236.0 1781.1,235.4 1781.3,234.7 1781.5,234.1 1781.7,233.4 1781.9,232.7 1782.1,232.0 1782.3,231.4 1782.5,230.7 1782.7,230.0 1782.9,229.3 1783.1,228.6 1783.3,227.9 1783.5,227.2 1783.7,226.4 1784.0,225.7 1784.2,225.0 1784.4,224.3 1784.7,223.5 1784.9,222.8 1785.2,222.0 1785.4,221.2 1785.7,220.5 1786.0,219.7 1786.3,218.9 1786.6,218.1 1786.9,217.4 1787.2,216.6 1787.5,215.8 1787.8,215.1 1788.1,214.4 1788.5,213.7 1788.9,213.0 1789.2,212.4 1789.6,211.8 1790.0,211.3 1790.4,210.9 1790.8,210.5 1791.2,210.2 1791.6,209.9 1792.1,209.8 1792.5,209.7 1793.0,209.7 1793.5,209.8 1794.0,210.0 1794.4,210.3 1794.9,210.6 1795.4,211.0 1795.9,211.5 1796.4,212.0 1796.8,212.5 1797.3,213.1 1797.7,213.7 1798.1,214.3 1798.5,215.0 1798.9,215.6 1799.3,216.3 1799.6,216.9 1800.0,217.6 1800.3,218.3 1800.5,219.0 1800.8,219.7 1801.1,220.4 1801.3,221.2 1801.5,221.9 1801.7,222.6 1801.9,223.4 1802.1,224.1 1802.3,224.8 1802.5,225.6 1802.6,226.3 1802.8,227.1 1802.9,227.8 1803.1,228.6 1803.2,229.3 1803.3,230.1 1803.5,230.8 1803.6,231.6 1803.7,232.3 1803.8,233.0 1804.0,233.8 1804.1,234.5 1804.2,235.2 1804.3,236.0 1804.4,236.7 1804.6,237.4 1804.7,238.1 1804.8,238.8 1804.9,239.5 1805.1,240.2 1805.2,240.9 1805.3,241.5 1805.5,242.2 1805.6,242.9 1805.7,243.6 1805.8,244.3 1806.0,244.9 1806.1,245.6 1806.2,246.3 1806.4,246.9 1806.5,247.6 1806.6,248.3 1806.8,248.9 1806.9,249.6 1807.0,250.3 1807.2,250.9 1807.3,251.6 1807.4,252.2 1807.5,252.9 1807.7,253.6 1807.8,254.2 1807.9,254.9 1808.0,255.6 1808.1,256.2 1808.3,256.9 1808.4,257.6 1808.5,258.3 1808.6,259.0 1808.7,259.6 1808.8,260.3 1808.9,261.0 1809.1,261.7 1809.2,262.4 1809.3,263.1 1809.4,263.7 1809.5,264.4 1809.6,265.1 1809.7,265.8 1809.8,266.5 1809.9,267.2 1810.0,267.9 1810.1,268.6 1810.2,269.3 1810.3,270.0 1810.4,270.7 1810.5,271.4 1810.6,272.1 1810.7,272.8 1810.8,273.5 1810.8,274.2 1810.9,274.9 1811.0,275.6 1811.1,276.3 1811.2,277.0 1811.3,277.7 1811.4,278.4 1811.5,279.1 1811.6,279.8 1811.7,280.5 1811.7,281.2 1811.8,281.9 1811.9,282.6 1812.0,283.3 1812.1,284.0 1812.2,284.7 1812.3,285.4 1812.4,286.1 1812.4,286.8 1812.5,287.5 1812.6,288.2 1812.7,288.9 1812.8,289.6 1812.9,290.3 1812.9,291.0 1813.0,291.6 1813.1,292.3 1813.2,293.0 1813.3,293.7 1813.4,294.4 1813.4,295.1 1813.5,295.8 1813.6,296.5 1813.7,297.2 1813.8,297.9 1813.8,298.6 1813.9,299.3 1814.0,300.0 1814.1,300.7 1814.2,301.4 1814.2,302.1 1814.3,302.8 1814.4,303.5 1814.5,304.2 1814.6,304.9 1814.6,305.6 1814.7,306.3 1814.8,307.0 1814.9,307.7 1814.9,308.4 1815.0,309.1 1815.1,309.8 1815.2,310.5 1815.2,311.2 1815.3,311.9 1815.4,312.5 1815.5,313.2 1815.5,313.9 1815.6,314.6 1815.7,315.3 1815.8,316.0 1815.8,316.7 1815.9,317.4 1816.0,318.1 1816.1,318.8 1816.1,319.5 1816.2,320.2 1816.3,320.9 1816.4,321.6 1816.4,322.3 1816.5,323.0 1816.6,323.7 1816.7,324.4 1816.7,325.1 1816.8,325.8 1816.9,326.4 1816.9,327.1 1817.0,327.8 1817.1,328.5 1817.2,329.2 1817.2,329.9 1817.3,330.6 1817.4,331.3 1817.4,332.0 1817.5,332.7 1817.6,333.4 1817.7,334.1 1817.7,334.8 1817.8,335.5 1817.9,336.2 1817.9,336.9 1818.0,337.6 1818.1,338.3 1818.2,339.0 1818.2,339.6 1818.3,340.3 1818.4,341.0 1818.4,341.7 1818.5,342.4 1818.6,343.1 1818.7,343.8 1818.7,344.5 1818.8,345.2 1818.9,345.9 1818.9,346.6 1819.0,347.3 1819.1,348.0 1819.2,348.7 1819.2,349.4 1819.3,350.1 1819.4,350.8 1819.4,351.5 1819.5,352.2 1819.6,352.9 1819.7,353.5 1819.7,354.2 1819.8,354.9 1819.9,355.6 1819.9,356.3 1820.0,357.0 1820.1,357.7 1820.2,358.4 1820.2,359.1 1820.3,359.8 1820.4,360.5 1820.5,361.2 1820.5,361.9 1820.6,362.6 1820.7,363.3 1820.7,364.0 1820.8,364.7 1820.9,365.4 1821.0,366.1 1821.0,366.8 1821.1,367.5 1821.2,368.2 1821.3,368.8 1821.3,369.5 1821.4,370.2 1821.5,370.9 1821.6,371.6 1821.6,372.3 1821.7,373.0 1821.8,373.7 1821.9,374.4 1821.9,375.1 1822.0,375.8 1822.1,376.5 1822.2,377.2 1822.2,377.9 1822.3,378.6 1822.4,379.3 1822.5,380.0 1822.5,380.7 1822.6,381.4 1822.7,382.1 1822.8,382.8 1822.8,383.5 1822.9,384.2 1823.0,384.9 1823.1,385.5 1823.2,386.2 1823.2,386.9 1823.3,387.6 1823.4,388.3 1823.5,389.0 1823.6,389.7 1823.6,390.4 1823.7,391.1 1823.8,391.8 1823.9,392.5 1824.0,393.2 1824.0,393.9 1824.1,394.6 1824.2,395.3 1824.3,396.0 1824.4,396.7 1824.5,397.4 1824.5,398.1 1824.6,398.8 1824.7,399.5 1824.8,400.2 1824.9,400.9 1825.0,401.5 1825.1,402.2 1825.1,402.9 1825.2,403.6 1825.3,404.3 1825.4,405.0 1825.5,405.7 1825.6,406.4 1825.7,407.1 1825.8,407.8 1825.8,408.5 1825.9,409.2 1826.0,409.9 1826.1,410.6 1826.2,411.3 1826.3,412.0 1826.4,412.7 1826.5,413.4 1826.6,414.1 1826.7,414.7 1826.8,415.4 1826.9,416.1 1826.9,416.8 1827.0,417.5 1827.1,418.2 1827.2,418.9 1827.3,419.6 1827.4,420.3 1827.5,421.0 1827.6,421.7 1827.7,422.4 1827.8,423.1 1827.9,423.8 1828.0,424.5 1828.1,425.2 1828.2,425.8 1828.3,426.5 1828.4,427.2 1828.5,427.9 1828.6,428.6 1828.7,429.3 1828.8,430.0 1828.9,430.7 1829.0,431.4 1829.1,432.1 1829.2,432.8 1829.3,433.5 1829.4,434.2 1829.6,434.8 1829.7,435.5 1829.8,436.2 1829.9,436.9 1830.0,437.6 1830.1,438.3 1830.2,439.0 1830.3,439.7 1830.4,440.4 1830.5,441.1 1830.7,441.8 1830.8,442.4 1830.9,443.1 1831.0,443.8 1831.1,444.5 1831.2,445.2 1831.3,445.9 1831.5,446.6 1831.6,447.3 1831.7,448.0 1831.8,448.7 1831.9,449.3 1832.1,450.0 1832.2,450.7 1832.3,451.4 1832.4,452.1 1832.5,452.8 1832.7,453.5 1832.8,454.2 1832.9,454.9 1833.0,455.5 1833.2,456.2 1833.3,456.9 1833.4,457.6 1833.5,458.3 1833.7,459.0 1833.8,459.7 1833.9,460.4 1834.1,461.0 1834.2,461.7 1834.3,462.4 1834.5,463.1 1834.6,463.8 1834.7,464.5 1834.9,465.2 1835.0,465.9 1835.1,466.5 1835.3,467.2 1835.4,467.9 1835.5,468.6 1835.7,469.3 1835.8,470.0 1836.0,470.7 1836.1,471.3 1836.2,472.0 1836.4,472.7 1836.5,473.4 1836.7,474.1 1836.8,474.8 1837.0,475.4 1837.1,476.1 1837.3,476.8 1837.4,477.5 1837.6,478.2 1837.7,478.9 1837.9,479.5 1838.0,480.2 1838.2,480.9 1838.3,481.6 1838.5,482.3 1838.6,483.0 1838.8,483.6 1838.9,484.3 1839.1,485.0 1839.3,485.7 1839.4,486.4 1839.6,487.0 1839.7,487.7 1839.9,488.4 1840.6,488.3 1841.2,488.2 1841.9,488.0 1842.5,487.9 1843.2,487.8 1843.4,487.1 1843.5,486.4 1843.7,485.7 1843.8,485.1 1843.9,484.4 1844.1,483.7 1844.2,483.0 1844.4,482.3 1844.5,481.6 1844.7,481.0 1844.8,480.3 1844.9,479.6 1845.1,478.9 1845.2,478.2 1845.4,477.5 1845.5,476.8 1845.6,476.2 1845.8,475.5 1845.9,474.8 1846.0,474.1 1846.2,473.4 1846.3,472.7 1846.4,472.0 1846.6,471.3 1846.7,470.7 1846.8,470.0 1846.9,469.3 1847.1,468.6 1847.2,467.9 1847.3,467.2 1847.5,466.5 1847.6,465.8 1847.7,465.2 1847.8,464.5 1847.9,463.8 1848.1,463.1 1848.2,462.4 1848.3,461.7 1848.4,461.0 1848.5,460.3 1848.7,459.7 1848.8,459.0 1848.9,458.3 1849.0,457.6 1849.1,456.9 1849.2,456.2 1849.3,455.5 1849.5,454.8 1849.6,454.1 1849.7,453.4 1849.8,452.8 1849.9,452.1 1850.0,451.4 1850.1,450.7 1850.2,450.0 1850.3,449.3 1850.4,448.6 1850.5,447.9 1850.6,447.2 1850.8,446.5 1850.9,445.9 1851.0,445.2 1851.1,444.5 1851.2,443.8 1851.3,443.1 1851.4,442.4 1851.5,441.7 1851.6,441.0 1851.7,440.3 1851.8,439.6 1851.9,438.9 1851.9,438.3 1852.0,437.6 1852.1,436.9 1852.2,436.2 1852.3,435.5 1852.4,434.8 1852.5,434.1 1852.6,433.4 1852.7,432.7 1852.8,432.0 1852.9,431.3 1853.0,430.6 1853.1,429.9 1853.1,429.3 1853.2,428.6 1853.3,427.9 1853.4,427.2 1853.5,426.5 1853.6,425.8 1853.7,425.1 1853.8,424.4 1853.8,423.7 1853.9,423.0 1854.0,422.3 1854.1,421.6 1854.2,420.9 1854.3,420.2 1854.3,419.5 1854.4,418.9 1854.5,418.2 1854.6,417.5 1854.7,416.8 1854.7,416.1 1854.8,415.4 1854.9,414.7 1855.0,414.0 1855.0,413.3 1855.1,412.6 1855.2,411.9 1855.3,411.2 1855.3,410.5 1855.4,409.8 1855.5,409.1 1855.6,408.4 1855.6,407.7 1855.7,407.0 1855.8,406.4 1855.9,405.7 1855.9,405.0 1856.0,404.3 1856.1,403.6 1856.1,402.9 1856.2,402.2 1856.3,401.5 1856.4,400.8 1856.4,400.1 1856.5,399.4 1856.6,398.7 1856.6,398.0 1856.7,397.3 1856.8,396.6 1856.8,395.9 1856.9,395.2 1857.0,394.5 1857.0,393.8 1857.1,393.1 1857.1,392.4 1857.2,391.7 1857.3,391.0 1857.3,390.3 1857.4,389.7 1857.5,389.0 1857.5,388.3 1857.6,387.6 1857.7,386.9 1857.7,386.2 1857.8,385.5 1857.8,384.8 1857.9,384.1 1858.0,383.4 1858.0,382.7 1858.1,382.0 1858.1,381.3 1858.2,380.6 1858.3,379.9 1858.3,379.2 1858.4,378.5 1858.4,377.8 1858.5,377.1 1858.5,376.4 1858.6,375.7 1858.7,375.0 1858.7,374.3 1858.8,373.6 1858.8,372.9 1858.9,372.2 1858.9,371.5 1859.0,370.8 1859.0,370.1 1859.1,369.4 1859.2,368.7 1859.2,368.0 1859.3,367.3 1859.3,366.6 1859.4,365.9 1859.4,365.2 1859.5,364.6 1859.5,363.9 1859.6,363.2 1859.6,362.5 1859.7,361.8 1859.7,361.1 1859.8,360.4 1859.9,359.7 1859.9,359.0 1860.0,358.3 1860.0,357.6 1860.1,356.9 1860.1,356.2 1860.2,355.5 1860.2,354.8 1860.3,354.1 1860.3,353.4 1860.4,352.7 1860.4,352.0 1860.5,351.3 1860.5,350.6 1860.6,349.9 1860.6,349.2 1860.7,348.5 1860.7,347.8 1860.8,347.1 1860.8,346.4 1860.9,345.7 1860.9,345.0 1861.0,344.3 1861.0,343.6 1861.1,342.9 1861.1,342.2 1861.2,341.5 1861.2,340.8 1861.3,340.1 1861.3,339.4 1861.4,338.7 1861.4,338.0 1861.5,337.3 1861.5,336.6 1861.6,335.9 1861.6,335.2 1861.7,334.5 1861.7,333.8 1861.7,333.1 1861.8,332.4 1861.8,331.7 1861.9,331.0 1861.9,330.3 1862.0,329.6 1862.0,328.9 1862.1,328.2 1862.1,327.5 1862.2,326.8 1862.2,326.1 1862.3,325.4 1862.3,324.7 1862.4,324.0 1862.4,323.3 1862.5,322.6 1862.5,321.9 1862.6,321.2 1862.6,320.5 1862.7,319.8 1862.7,319.1 1862.8,318.4 1862.8,317.7 1862.9,317.1 1862.9,316.4 1863.0,315.7 1863.0,315.0 1863.1,314.3 1863.1,313.6 1863.2,312.9 1863.2,312.2 1863.3,311.5 1863.3,310.8 1863.4,310.1 1863.4,309.4 1863.5,308.7 1863.5,308.0 1863.6,307.3 1863.6,306.6 1863.7,305.9 1863.7,305.2 1863.8,304.5 1863.8,303.8 1863.9,303.1 1863.9,302.4 1864.0,301.7 1864.0,301.0 1864.1,300.3 1864.1,299.6 1864.2,298.9 1864.2,298.2 1864.3,297.5 1864.3,296.8 1864.4,296.1 1864.5,295.4 1864.5,294.7 1864.6,294.0 1864.6,293.3 1864.7,292.6 1864.7,291.9 1864.8,291.2 1864.8,290.5 1864.9,289.8 1864.9,289.1 1865.0,288.4 1865.1,287.7 1865.1,287.0 1865.2,286.3 1865.2,285.6 1865.3,284.9 1865.3,284.2 1865.4,283.5 1865.4,282.8 1865.5,282.1 1865.6,281.4 1865.6,280.7 1865.7,280.0 1865.7,279.3 1865.8,278.6 1865.9,277.9 1865.9,277.2 1866.0,276.5 1866.0,275.8 1866.1,275.1 1866.2,274.5 1866.2,273.8 1866.3,273.1 1866.3,272.4 1866.4,271.7 1866.5,271.0 1866.5,270.3 1866.6,269.6 1866.7,268.9 1866.7,268.2 1866.8,267.5 1866.8,266.8 1866.9,266.1 1867.0,265.4 1867.0,264.7 1867.1,264.0 1867.2,263.3 1867.2,262.6 1867.3,261.9 1867.4,261.2 1867.4,260.5 1867.5,259.8 1867.6,259.1 1867.6,258.4 1867.7,257.7 1867.8,257.0 1867.9,256.3 1867.9,255.6 1868.0,254.9 1868.1,254.2 1868.1,253.5 1868.2,252.8 1868.3,252.2 1868.4,251.5 1868.4,250.8 1868.5,250.1 1868.6,249.4 1868.7,248.7 1868.7,248.0 1868.8,247.3 1868.9,246.6 1869.0,245.9 1869.0,245.2 1869.1,244.5 1869.2,243.8 1869.3,243.1 1869.4,242.4 1869.4,241.7 1869.5,241.0 1869.6,240.3 1869.7,239.6 1869.8,238.9 1869.8,238.2 1869.9,237.5 1870.0,236.8 1870.1,236.2 1870.2,235.5 1870.3,234.8 1870.3,234.1 1870.4,233.4 1870.5,232.7 1870.6,232.0 1870.7,231.3 1870.8,230.6 1870.9,229.9 1870.9,229.2 1871.0,228.5 1871.1,227.8 1871.2,227.1 1871.3,226.4 1871.4,225.7 1871.5,225.0 1871.6,224.4 1871.7,223.7 1871.8,223.0 1871.8,222.3 1871.9,221.6 1872.0,220.9 1872.1,220.2 1872.2,219.5 1872.3,218.8 1872.4,218.1 1872.5,217.4 1872.6,216.7 1872.7,216.0 1872.8,215.3 1872.9,214.6 1873.0,214.0 1873.1,213.3 1873.2,212.6 1873.2,211.9 1873.3,211.2 1873.4,210.5 1873.5,209.8 1873.6,209.1 1873.7,208.4 1873.8,207.7 1873.9,207.0 1874.0,206.3 1874.1,205.7 1874.2,205.0 1874.3,204.3 1874.4,203.6 1874.5,202.9 1874.6,202.2 1874.7,201.5 1874.8,200.8 1874.9,200.1 1875.0,199.4 1875.1,198.7 1875.2,198.0 1875.3,197.4 1875.4,196.7 1875.5,196.0 1875.6,195.3 1875.7,194.6 1875.8,193.9 1875.9,193.2 1876.0,192.5 1876.1,191.8 1876.2,191.1 1876.3,190.5 1876.4,189.8 1876.5,189.1 1876.6,188.4 1876.7,187.7 1876.8,187.0 1876.9,186.3 1877.0,185.6 1877.1,184.9 1877.2,184.3 1877.3,183.6 1877.4,182.9 1877.5,182.2 1877.6,181.5 1877.7,180.8 1877.8,180.1 1877.9,179.5 1878.0,178.8 1878.1,178.1 1878.2,177.4 1878.3,176.7 1878.4,176.0 1878.5,175.4 1878.6,174.7 1878.7,174.0 1878.8,173.3 1878.9,172.6 1879.0,172.0 1879.1,171.3 1879.2,170.6 1879.3,169.9 1879.4,169.3 1879.6,168.6 1879.7,167.9 1879.8,167.2 1879.9,166.5 1880.1,165.9 1880.3,165.2 1880.4,164.5 1880.6,163.8 1880.8,163.0 1881.0,162.3 1881.2,161.6 1881.4,160.9 1881.7,160.1 1882.0,159.4 1882.2,158.6 1882.5,157.8 1882.9,157.0 1883.2,156.3 1883.6,155.5 1883.9,154.7 1884.3,153.9 1884.7,153.2 1885.1,152.5 1885.5,151.8 1885.9,151.1 1886.4,150.5 1886.8,149.9 1887.2,149.3 1887.7,148.8 1888.1,148.4 1888.5,148.0 1888.9,147.7 1889.3,147.5 1889.7,147.3 1890.1,147.3 1890.5,147.3 1890.9,147.4 1891.3,147.6 1891.6,147.9 1892.0,148.3 1892.3,148.7 1892.6,149.2 1892.9,149.7 1893.2,150.3 1893.6,150.9 1893.8,151.6 1894.1,152.2 1894.4,152.9 1894.7,153.6 1895.0,154.3 1895.2,155.0 1895.5,155.7 1895.8,156.4 1896.0,157.1 1896.3,157.8 1896.6,158.5 1896.8,159.2 1897.1,159.9 1897.3,160.6 1897.6,161.3 1897.8,162.0 1898.1,162.7 1898.3,163.4 1898.5,164.1 1898.8,164.8 1899.0,165.5 1899.2,166.1 1899.4,166.8 1899.7,167.5 1899.9,168.2 1900.1,168.9 1900.3,169.6 1900.5,170.3 1900.7,171.0 1900.9,171.7 1901.1,172.4 1901.3,173.1 1901.5,173.8 1901.7,174.5 1901.9,175.2 1902.1,175.9 1902.3,176.5 1902.5,177.2 1902.7,177.9 1902.9,178.6 1903.1,179.3 1903.2,180.0 1903.4,180.7 1903.6,181.4 1903.8,182.1 1903.9,182.8 1904.1,183.4 1904.3,184.1 1904.4,184.8 1904.6,185.5 1904.8,186.2 1904.9,186.9 1905.1,187.6 1905.3,188.3 1905.4,189.0 1905.6,189.6 1905.7,190.3 1905.9,191.0 1906.0,191.7 1906.2,192.4 1906.3,193.1 1906.5,193.8 1906.6,194.4 1906.8,195.1 1906.9,195.8 1907.1,196.5 1907.2,197.2 1907.4,197.9 1907.5,198.5 1907.7,199.2 1907.8,199.9 1907.9,200.6 1908.1,201.3 1908.2,201.9 1908.3,202.6 1908.5,203.3 1908.6,204.0 1908.8,204.7 1908.9,205.3 1909.0,206.0 1909.2,206.7 1909.3,207.4 1909.4,208.1 1909.5,208.7 1909.7,209.4 1909.8,210.1 1909.9,210.8 1910.1,211.4 1910.2,212.1 1910.3,212.8 1910.5,213.5 1910.6,214.1 1910.7,214.8 1910.8,215.5 1911.0,216.2 1911.1,216.8 1911.2,217.5 1911.4,218.2 1911.5,218.8 1911.6,219.5 1911.8,220.2 1911.9,220.9 1912.0,221.5 1912.1,222.2 1912.3,222.9 1912.4,223.5 1912.5,224.2 1912.7,224.9 1912.8,225.5 1912.9,226.2 1913.1,226.9 1913.2,227.6 1913.4,228.2 1913.5,228.9 1913.6,229.6 1913.8,230.2 1913.9,230.9 1914.1,231.6 1914.2,232.2 1914.3,232.9 1914.5,233.6 1914.6,234.3 1914.8,234.9 1914.9,235.6 1915.1,236.3 1915.2,237.0 1915.4,237.6 1915.6,238.3 1915.7,239.0 1915.9,239.7 1916.0,240.3 1916.2,241.0 1916.4,241.7 1916.5,242.4 1916.7,243.1 1916.9,243.7 1917.1,244.4 1917.2,245.1 1917.4,245.8 1917.6,246.5 1917.8,247.2 1918.0,247.9 1918.2,248.6 1918.4,249.2 1918.6,249.9 1918.8,250.6 1919.0,251.3 1919.2,252.0 1919.4,252.7 1919.6,253.4 1919.8,254.1 1920.0,254.8 1920.2,255.5 1920.4,256.2 1920.7,257.0 1920.9,257.7 1921.1,258.4 1921.4,259.1 1921.6,259.8 1921.8,260.5 1922.1,261.2 1922.3,262.0 1922.6,262.7 1922.8,263.4 1923.1,264.1 1923.3,264.9 1923.6,265.6 1923.9,266.3 1924.2,267.0 1924.5,267.7 1924.8,268.4 1925.1,269.1 1925.4,269.8 1925.7,270.5 1926.1,271.1 1926.4,271.7 1926.8,272.3 1927.2,272.9 1927.6,273.4 1928.1,273.9 1928.5,274.4 1929.0,274.9 1929.5,275.3 1930.1,275.7 1930.6,276.0 1931.2,276.3 1931.7,276.5 1932.3,276.7 1933.0,276.9 1933.6,277.0 1934.2,277.0 1934.8,277.0 1935.5,276.9 1936.1,276.8 1936.8,276.6 1937.5,276.5 1938.1,276.2 1938.8,276.0 1939.5,275.7 1940.2,275.5 1940.9,275.2 1941.5,274.9 1942.2,274.7 1942.9,274.4 1943.6,274.1 1944.3,273.9 1945.0,273.7 1945.7,273.5 1946.4,273.4 1947.0,273.2 1947.7,273.1 1948.4,273.0 1949.1,272.9 1949.8,272.8 1950.5,272.7 1951.2,272.7 1951.9,272.6 1952.5,272.6 1953.2,272.6 1953.9,272.6 1954.6,272.6 1955.3,272.6 1956.0,272.6 1956.7,272.6 1957.4,272.6 1958.0,272.7 1958.7,272.7 1959.4,272.8 1960.1,272.8 1960.8,272.9 1961.5,272.9 1962.2,273.0 1962.9,273.0 1963.6,273.1 1964.3,273.2 1965.0,273.2 1965.7,273.3 1966.4,273.3 1967.1,273.4 1967.8,273.4 1968.5,273.5 1969.2,273.5 1969.9,273.6 1970.6,273.6 1971.3,273.6 1972.0,273.7 1972.7,273.7 1973.4,273.8 1974.1,273.8 1974.8,273.8 1975.5,273.9 1976.2,273.9 1976.9,273.9 1977.6,273.9 1978.3,274.0 1979.0,274.0 1979.7,274.0 1980.4,274.0 1981.1,274.0 1981.8,274.0 1982.5,274.1 1983.2,274.1 1983.9,274.1 1984.6,274.1 1985.3,274.1 1986.0,274.1 1986.7,274.1 1987.4,274.1 1988.1,274.1 1988.8,274.1 1989.5,274.1 1990.2,274.1 1990.9,274.1 1991.6,274.0 1992.3,274.0 1993.0,274.0 1993.7,274.0 1994.4,274.0 1995.1,274.0 1995.8,273.9 1996.5,273.9" fill="none" stroke="#ec2a2e" stroke-width="2.0" stroke-linejoin="round"/>
<rect x="1239.4" y="22.1" width="758.1" height="610.9" fill="none" stroke="#000" stroke-width="2.2"/>
<path d="M1254.6,633.0 V638.5 M1300.1,633.0 V644.0 M1345.6,633.0 V638.5 M1391.1,633.0 V644.0 M1436.7,633.0 V638.5 M1482.2,633.0 V644.0 M1527.7,633.0 V638.5 M1573.2,633.0 V644.0 M1618.7,633.0 V638.5 M1664.3,633.0 V644.0 M1709.8,633.0 V638.5 M1755.3,633.0 V644.0 M1800.8,633.0 V638.5 M1846.4,633.0 V644.0 M1891.9,633.0 V638.5 M1937.4,633.0 V644.0 M1982.9,633.0 V638.5 M1239.4,80.8 H1227.4 M1239.4,179.4 H1227.4 M1239.4,278.0 H1227.4 M1239.4,376.6 H1227.4 M1239.4,475.2 H1227.4 M1239.4,573.8 H1227.4" stroke="#000" stroke-width="2.2" fill="none"/>
<text transform="translate(1300.1,672.9) scale(1,1.040)" font-size="26" text-anchor="middle">3030</text>
<text transform="translate(1391.1,672.9) scale(1,1.040)" font-size="26" text-anchor="middle">3000</text>
<text transform="translate(1482.2,672.9) scale(1,1.040)" font-size="26" text-anchor="middle">2970</text>
<text transform="translate(1573.2,672.9) scale(1,1.040)" font-size="26" text-anchor="middle">2940</text>
<text transform="translate(1664.3,672.9) scale(1,1.040)" font-size="26" text-anchor="middle">2910</text>
<text transform="translate(1755.3,672.9) scale(1,1.040)" font-size="26" text-anchor="middle">2880</text>
<text transform="translate(1846.4,672.9) scale(1,1.040)" font-size="26" text-anchor="middle">2850</text>
<text transform="translate(1937.4,672.9) scale(1,1.040)" font-size="26" text-anchor="middle">2820</text>
<text transform="translate(1218.8,88.7) scale(1,1.040)" font-size="26" text-anchor="end">0.0010</text>
<text transform="translate(1218.8,187.3) scale(1,1.040)" font-size="26" text-anchor="end">0.0005</text>
<text transform="translate(1218.8,285.9) scale(1,1.040)" font-size="26" text-anchor="end">0.0000</text>
<text transform="translate(1218.8,384.5) scale(1,1.040)" font-size="26" text-anchor="end">-0.0005</text>
<text transform="translate(1218.8,483.1) scale(1,1.040)" font-size="26" text-anchor="end">-0.0010</text>
<text transform="translate(1218.8,581.7) scale(1,1.040)" font-size="26" text-anchor="end">-0.0015</text>
<text transform="translate(1470.9,728.3) scale(1,1.040)" font-size="31.7">Wavenumber (cm<tspan font-size="20.5" dy="-13.7">-1</tspan><tspan dy="13.7" dx="3.5">)</tspan></text>
<text transform="translate(1097.5,317.1) rotate(-90) scale(1,1.040)" font-size="31.7" text-anchor="middle">Arbitrary Unit</text>
<line x1="1246.5" y1="46.9" x2="1313.4" y2="46.9" stroke="#444" stroke-width="2.2"/>
<line x1="1246.5" y1="82.9" x2="1313.4" y2="82.9" stroke="#f22" stroke-width="1.6"/>
<text transform="translate(1320.8,56.5) scale(1,1.040)" font-size="28.6" fill="#000">Gut</text>
<text transform="translate(1328.0,95.3) scale(1,1.040)" font-size="30.8" fill="#f00">Salivary</text>
<text transform="translate(1328.0,133.9) scale(1,1.040)" font-size="30.8" fill="#f00">Glands</text>
<text transform="translate(1283.6,334.1) scale(1,1.040)" font-size="26" fill="#f00" text-anchor="middle">3035</text>
<text transform="translate(1381.4,331.5) scale(1,1.040)" font-size="26" fill="#f00" text-anchor="middle">3010</text>
<text transform="translate(1452.7,412.6) scale(1,1.040)" font-size="26" fill="#000" text-anchor="middle">2962</text>
<text transform="translate(1507.8,513.9) scale(1,1.040)" font-size="26" fill="#f00" text-anchor="middle">2960</text>
<text transform="translate(1558.6,465.1) scale(1,1.040)" font-size="26" fill="#000" text-anchor="middle">2925</text>
<text transform="translate(1617.6,614.7) scale(1,1.040)" font-size="26" fill="#f00" text-anchor="middle">2924</text>
<text transform="translate(1778.8,360.7) scale(1,1.040)" font-size="26" fill="#000" text-anchor="middle">2875</text>
<text transform="translate(1724.0,425.0) scale(1,1.040)" font-size="26" fill="#f00" text-anchor="middle">2877</text>
<text transform="translate(1877.6,406.1) scale(1,1.040)" font-size="26" fill="#000" text-anchor="middle">2852</text>
<text transform="translate(1838.1,542.2) scale(1,1.040)" font-size="26" fill="#f00" text-anchor="middle">2852</text>
</svg></body></html>
